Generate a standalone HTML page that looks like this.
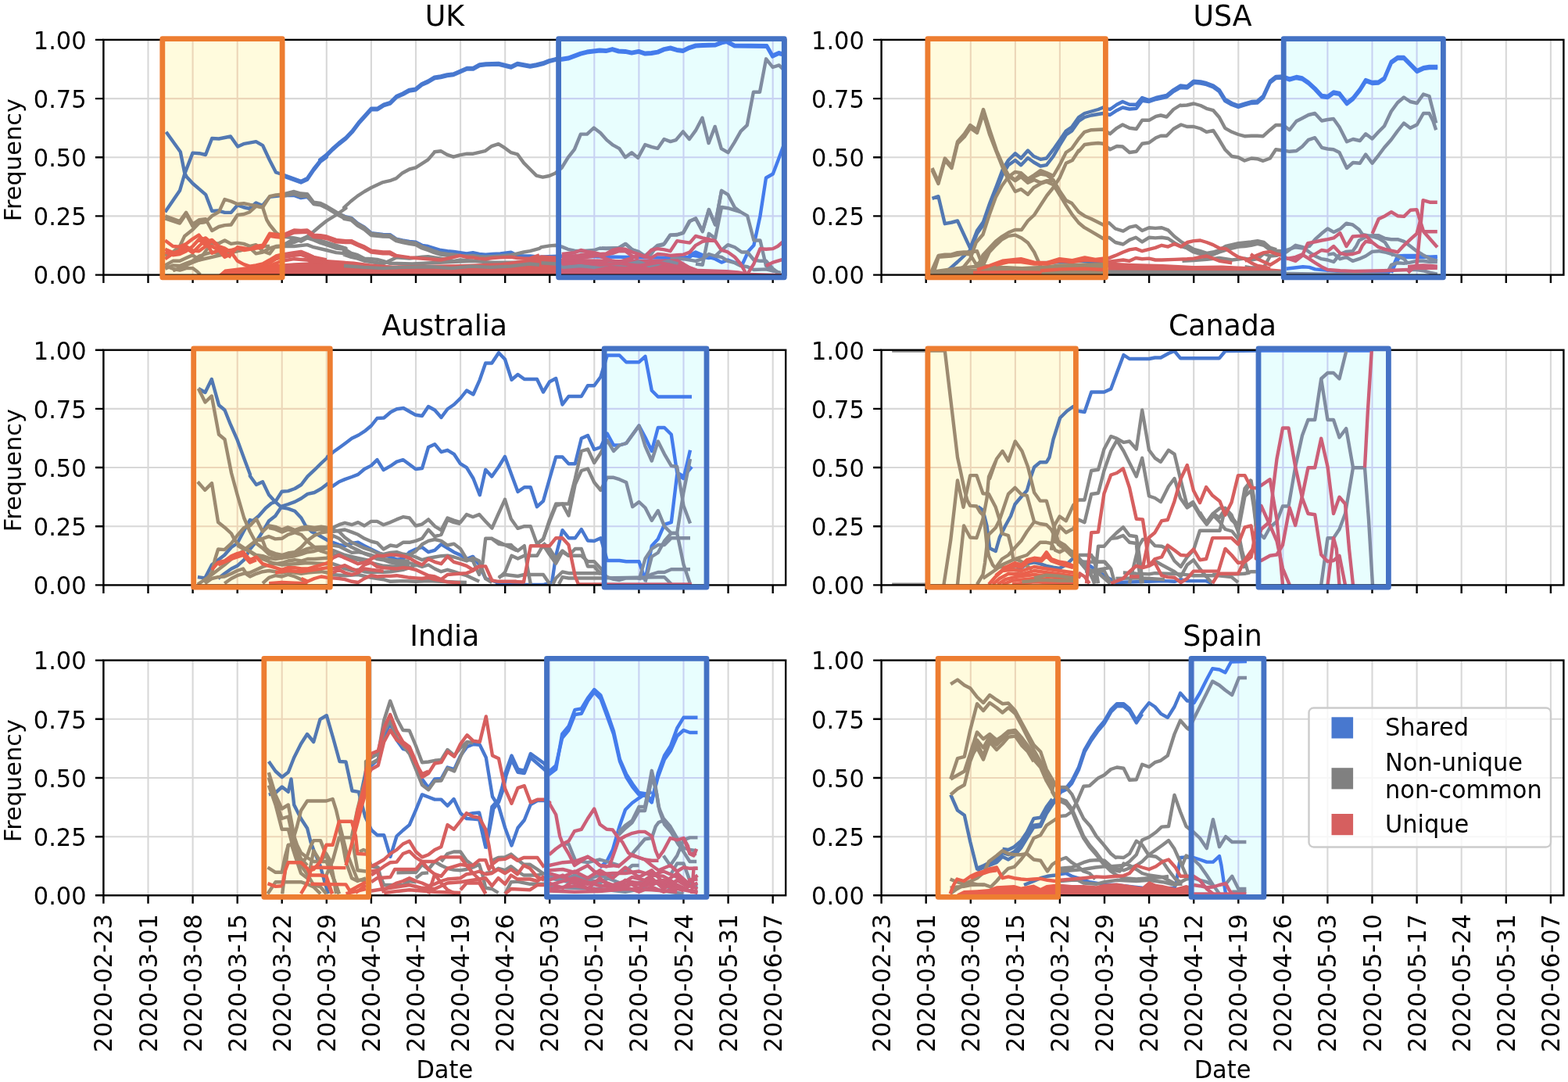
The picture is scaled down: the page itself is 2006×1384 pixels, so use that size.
<!DOCTYPE html>
<html lang="en">
<head>
<meta charset="utf-8">
<title>Frequency by country</title>
<style>
html,body{margin:0;padding:0;background:#fff;}
body{width:2006px;height:1384px;overflow:hidden;}
svg{display:block;filter:blur(0.55px);}
</style>
</head>
<body>
<svg xmlns="http://www.w3.org/2000/svg" width="2006" height="1384" viewBox="0 0 2006 1384" font-family="'DejaVu Sans','Liberation Sans',sans-serif">
<rect width="2006" height="1384" fill="#fff"/>
<defs>
<clipPath id="c00"><rect x="132.4" y="50.9" width="872.8" height="300.7"/></clipPath>
<path id="g00" d="M189.5 50.9V351.6M246.6 50.9V351.6M303.7 50.9V351.6M360.7 50.9V351.6M417.8 50.9V351.6M474.9 50.9V351.6M532 50.9V351.6M589.1 50.9V351.6M646.2 50.9V351.6M703.2 50.9V351.6M760.3 50.9V351.6M817.4 50.9V351.6M874.5 50.9V351.6M931.6 50.9V351.6M988.7 50.9V351.6M132.4 276.4H1005.2M132.4 201.2H1005.2M132.4 126.1H1005.2" fill="none" stroke-width="2.1"/>
<g id="d00b">
<polyline points="211.2,271.2 230,243.8 236.2,222.5 246.5,195.6 255,196.2 263,198 271.2,177 280,177.5 295,174.5 304.2,187.5 312.5,183.8 327.5,181.2 336.2,186.2 345,205 353,220.5 360.8,223 385,231.9 393.1,228.1 401.2,216.2 410,205 417.8,199.4 409.1,204.4 417.2,198.3 425.3,190.2 433.4,183.1 442.5,176 450.6,167.5 458.7,156.8 466.8,147.7 474.9,138.6 483,138.6 491,133.5 499.1,131.1 507.2,123 515.3,119.4 523.4,114.9 531.5,113.7 539.6,107.2 547.7,103.6 555.8,98.7 563.9,97.5 572,95.5 580.1,94.5 588.2,91 597.3,87 605.4,87 613.5,82.5 621.5,81.5 637.7,80.9 645.8,83 653.9,85 662,80.9 670.1,82.5 678.2,84 686.3,82.5 694.4,80.5 702.5,77.3 710.6,75.3 718.7,74.9 726.8,73.8 734.9,70.8 742.9,67.8 751,65.8 759.1,64.7 767.2,63.7 775.3,64.3 783.4,62.3 791.5,64.7 800,65.1 808.1,66.8 817.2,65.1 825.3,67.8 833.4,67.2 841.5,65.8 849.6,62.3 857.7,60.7 865.8,63.1 873.8,64.3 881.9,60.3 890,57.7 899.1,57.1 915.3,56.7 923.4,53.6 929.5,52.2 939.6,57.7 981.1,58.3 988.2,70.8 996.3,67.2 1002.3,68.8"/>
<polyline points="360.8,224.6 385,233.5 393.1,229.7 401.2,217.8 410,206.6 417.8,201 409.1,206 417.2,199.9 425.3,191.8 433.4,184.7 442.5,177.6 450.6,169.1 458.7,158.4 466.8,149.3 474.9,140.2 483,140.2 491,135.1 499.1,132.7 507.2,124.6 515.3,121 523.4,116.5 531.5,115.3 539.6,108.8 547.7,105.2 555.8,100.3 563.9,99.1 572,97.1 580.1,96.1 588.2,92.6 597.3,88.6 605.4,88.6 613.5,84.1 621.5,83.1 637.7,82.5 645.8,84.6 653.9,86.6 662,82.5 670.1,84.1 678.2,85.6 686.3,84.1 694.4,82.1 702.5,78.9 710.6,76.9 718.7,76.5 726.8,75.4 734.9,72.4 742.9,69.4 751,67.4 759.1,66.3 767.2,65.3 775.3,65.9 783.4,63.9 791.5,66.3 800,66.7 808.1,68.4 817.2,66.7 825.3,69.4 833.4,68.8 841.5,67.4 849.6,63.9 857.7,62.3 865.8,64.7 873.8,65.9 881.9,61.9 890,59.3 899.1,58.7 915.3,58.3 923.4,55.2 929.5,53.8 939.6,59.3 981.1,59.9 988.2,72.4 996.3,68.8 1002.3,70.4"/>
<polyline points="212.5,168.8 230.8,194.2 236.2,221.2 238.8,226.2 246.9,235 263.1,248.8 271.2,270 278.8,269.4 287.5,271.9 295.6,271.9 303.8,262.5 311.2,265 318.8,266.9 327.5,259.4 335.6,263.1 345,251.9 360.6,250 376.2,250 385,253.1 393.1,251.9 401.2,260 410,261.2 417.8,265 430,271.9 442.5,277.5 449.4,278.8 457.5,285.6 466.2,290.6 475,298.1 490,300 498.8,300.2 506.9,305.6 515,307.5 523.8,309 531.9,309.8 540,313.8 547.5,315 555.6,317.5 563.8,320 572.5,321.2 580.6,321.9 588.8,323.1 596.9,324.4 605,323.1 613.1,325 621.2,325.6 630,325 640,324.4 653.8,322.8 661.9,326.9 670,327.5 678.1,327.5 690,328.8 718.8,327.5 867.5,330 882.5,328.8 890,323.1 898.8,326.2 906.9,330 882.5,326.2 890,322.5 898.8,326.2 906.9,328.8 915,331.2 923.1,335.6 931.2,332.5 941.2,336.2 950,337.5 957.5,321.2 964.4,313.8 972.5,276.2 980,227.5 988.8,222.5 995,206.2 1003.8,182.5"/>
</g>
<g id="d00g">
<polyline points="360.6,315 376.2,310 385,306.2 393.1,302.5 401.2,296.2 410,288.8 417.8,282.5 430,275 442.5,266.2 440,265.6 448.8,257.5 457.5,250.6 466.2,245 475,240 490,233.1 498.8,231.2 506.9,228.1 515,221.2 523.8,216.5 531.9,214.4 547.5,204.4 555.6,195 555.8,194.2 563.9,193.2 572,197.9 580.1,200.7 588.2,198.3 597.3,196.7 605.4,196.7 620.5,193.2 628.6,187.2 637.7,184.1 645.8,189.2 653.9,195.2 662,197.3 670.1,208.4 678.2,216.5 686.3,224.6 694.4,226.6 702.5,225 710.6,221.5 718.7,214.5 726.8,201.3 734.9,191.2 742.9,171.6 751,171.6 759.7,163.5 768.2,170 776.3,179.1 784.4,185.7 792.5,190.2 800,201.3 808.1,195.2 816.2,201.9 825.3,185.1 833.4,187.8 841.5,189.8 849.6,178 857.7,181.1 864.7,179.1 873.8,168.3 881.9,178 890,166.9 898.5,150.7 906.6,183.1 914.7,161.9 922.8,190.2 931.5,195.2 939.6,182.1 947.7,167.9 955.8,160.2 963.9,117.8 972,117.8 980.1,75.3 988.6,86 996.7,83.4 1002.3,89"/>
<polyline points="211.2,276.2 230,283.1 238.1,271.9 246.5,286.9 255,281.2 263.1,280.2 271.2,295 280,290 287.5,288.1 295.6,287.5 303.8,275 311.9,274 319.4,271.2 327.5,263.8 336.2,265 345,251.2 353.1,249.4 360.6,248.8 376.2,245 385,247.5 393.1,248.1 401.2,258.8 410,260 417.8,263.8 430,271.2 442.5,278.1 440,277.5 449.4,279.4 457.5,286.2 466.2,291.2 475,298.8 490,300.6 498.8,301 506.9,306.2 515,308.1 523.8,310 531.9,311 540,315.6 547.5,318.1 555.6,321.2 563.8,323.8 572.5,325 580.6,325.6 588.8,326.9 596.9,327.5 605,326.9 613.1,328.1 621.2,328.8 630,328.1 640,327.5 653.8,326.2 661.9,324.4 670,322.5 678.1,321.2 690,317.8 692.5,316.2 703.1,314.4 711.2,313.8 718.8,315.6 726.5,318.8 735,320.6 743.1,321.2 760,320 767.5,317.5 775.6,318.1 783.8,317.5 791.9,316.9 800,311.9 808.8,319.4 816.9,321.9 825,327.5 833.1,325 841.2,313.8 850,311.9 857.5,300.6 866.2,300 874.4,297.5 882.5,283.1 890,279.4 898.8,295.6 906.9,268.1 915,287.5 923.1,243.8 931.2,248.8 940,265.6 947.5,271.2 956.2,276.2 964.4,307.5 972.5,307.5 980,340 988.8,345 998.8,351.2"/>
<polyline points="211.2,279.4 230,285.6 238.1,273.8 246.5,289.4 255,285 263.1,283.8 271.2,276.2 280,271.2 287.5,255 295.6,257.5 303.8,261 311.9,260.2 320,261.9 327.5,263.1 336.2,265.6 341.2,281.2 345,287.5 353.1,297.5 360.6,302.5 376.2,304.4 385,306.2 393.1,304.4 401.2,306.9 410,310.6 417.8,313.1 430,317.5 442.5,318.8 440,318.1 449.4,323.8 457.5,326.2 466.2,330.6 475,331.2 482.5,331.9 490,333.8 498.8,336.9 506.9,336.9 527.5,337.5 552.5,336.2 577.5,335 605,333.8 627.5,335.6 653.8,335.6 690,335"/>
<polyline points="360.6,251.2 376.2,248.1 385,251.2 393.1,250.6 401.2,261 410,262.2 417.8,266 430,273.5 442.5,280.2 440,279.8 449.4,281.5 457.5,288.5 466.2,293.5 475,301 490,302.5 498.8,302.8 506.9,308.1 515,310 523.8,311.9 531.9,313.1 540,317.5 547.5,320 555.6,323.1 563.8,325.6 572.5,326.9 580.6,327.5"/>
<polyline points="211.2,327.5 221.2,322.5 230,315 236.2,301.9 246.5,293.8 255,285 263.1,283.8"/>
<polyline points="211.2,339.4 221.2,333.8 230,333.8 238.1,330 246.5,326.2 255,332.5 263.1,321.2 270,311.9 280,311.2 287.5,307.5 295.6,311.9 303.8,310.6 311.9,311.9 320,315 327.5,313.1 336.2,321.2 345,324.4 351.2,316.2 360.6,315 376.2,315 393.1,313.1 401.2,316.2 417.8,320 430,323.1 442.5,324.4 440,325.6 449.4,328.8 457.5,330.6 466.2,333.8 475,335 490,337.5 506.9,329.4 523.8,330.6 540,328.8 547.5,328.1 555.6,329.4 563.8,330.6 580.6,333.8 588.8,332.5 605,333.8"/>
<polyline points="211.2,343.8 221.2,339.4 230,340 238.1,336.9 246.5,333.8 255,327.5 263.1,325 271.2,322.5 287.5,325 303.8,321.2 320,317.5 327.5,324.4 336.2,322.5 345,317.5 353.1,315 360.6,314.4 376.2,305.6 385,308.8 393.1,304.4 401.2,305 417.8,310 430,313.8 442.5,317.5 440,321.2 449.4,326.2 457.5,327.5 466.2,332.5 475,333.8"/>
<polyline points="221.2,346.2 230,343.1 238.8,339.4 246.5,335.6 255,332.5 271.2,328.8 287.5,325 303.8,321.2 320,317.5 336.2,315 345,315"/>
<polyline points="211.2,340 221.2,343.8 230,345.6 238.1,343.1 246.5,343.1 252.5,347.5 256.2,351.2"/>
<polyline points="770,317.5 791.2,317.5 800.6,311.9 808.8,319.4 816.5,322.5 825,327.5 840,315 848.8,313.1 857.5,300.6 865.6,300.6 873.8,298.1 881.9,283.1 890,279.4 898.8,296.2 906.9,268.1 915,287.5 923.1,243.8"/>
<polyline points="890,337.5 898.8,338.8 906.9,298.8 915,305 923.1,265 931.2,266.2 940,268.8 947.5,271.2"/>
<polyline points="915,327.5 923.1,320 931.2,313.1 940,316.2 948.8,322.5 956.2,322.5 964.4,332.5 972.5,333.8 980,333.8 988.8,343.8 998.8,351.2"/>
<polyline points="857.5,330 873.8,331.2 890,333.8 898.8,331.2 906.9,325 915,327.5 923.1,328.8 931.2,333.8 940,336.2 947.5,340 956.2,341.2 964.4,345 980,344.4 998.8,348.8"/>
</g>
<g id="d00r">
<polygon stroke="none" fill="currentColor" points="280,351 287.5,344.4 303.8,342.5 320,340.6 336.2,339.4 360.6,337.5 376.2,336.2 393.1,335.6 401.2,333.8 417.8,331.9 442.5,333.8 440,333.8 452.5,334.4 475,337.5 502.5,339.4 547.5,338.8 590,338.1 640,336.2 677.5,331.2 692.5,326.2 711.2,327.5 718.8,330.6 792.5,331.9 867.5,331.2 882.5,340 892.5,343.8 930,345 945,346.2 957.5,348.8 1000,350 1000,351.5 280,351.5"/>
<polyline points="211.2,307.5 221.2,315 230,315.6 238.1,311.9 246.5,305.6 254.4,300.6 258.8,306.2 263.1,304.4 267.5,308.1 271.2,306.9 280,315 287.5,317.5 295.6,322.5 303.8,333.8 311.9,338.1 319.4,340.6 327.5,339.4 336.2,337.5 345,332.5 353.1,327.5 360.6,325.6 376.2,323.1 385,321.9 393.1,325 401.2,328.8 417.8,332.5"/>
<polyline points="211.2,318.8 221.2,323.1 230,322.5 238.1,317.5 246.5,323.1 254.4,315 263.1,306.9 271.2,323.8 280,320 287.5,328.8 295.6,325 303.8,316.2 311.9,317.5 320,318.8 327.5,315 336.2,313.8 345,298.8 353.1,300 360.6,301.2 376.2,294.4 385,295 393.1,294.4 401.2,300.6 410,301.2 417.8,302.5 430,306.9 442.5,308.1 440,308.1 449.4,308.1 457.5,311.9 466.2,315.6 475,320.6 490,322.5 498.8,322.5 506.9,326.9 515,328.1 523.8,329.4 531.9,330 563.8,332.5 572.5,330.6 580.6,328.8 588.8,326.9 596.9,328.8 605,329.4 613.1,330.6 621.2,331.2 630,330 640,329.4 653.8,328.8 661.9,330 670,330.6 678.1,330.6 690,326.2"/>
<polyline points="211.2,322.5 221.2,326.2 230,325 238.1,321.2 246.5,315 254.4,306.2 263.1,313.8 271.2,308.1 280,316.2 287.5,321.2 295.6,320 303.8,317.5 311.9,320 327.5,317.5 336.2,316.2 345,301.9 353.1,303.1 360.6,303.8 376.2,297.5 393.1,296.9 401.2,303.1 410,303.8 417.8,305 430,309.4 442.5,310 440,310 449.4,310 457.5,313.8 466.2,317.5 475,322.5 490,324.4 498.8,324.4 506.9,328.1"/>
<polyline points="211.2,331.2 221.2,324.4 230,320 238.1,315 246.5,320.6 254.4,321.2 263.1,315 271.2,315 280,320 287.5,323.8 295.6,328.8"/>
<polyline points="718.8,325 735,323.1 743.1,320 751.2,321.9 760,323.1 767.5,325 775.6,324.4 783.8,320 791.9,318.1 800,318.8 808.8,322.5 816.9,325 825,328.8 833.1,320 841.2,318.1 850,319.4 857.5,321.2 866.2,308.1 874.4,309.4 882.5,310.6 890,301.9 898.8,304.4 906.9,306.2 915,308.1 923.1,320 930,321.9 931.2,322.5 940,328.8 947.5,337.5 953.8,348.8"/>
<polyline points="718.8,326.9 735,327.5 743.1,326.2 751.2,325 760,326.2 767.5,327.5 775.6,331.2 783.8,333.8 791.9,335 800,332.5 808.8,330 816.9,326.2 833.1,330 841.2,325 850,325.6 857.5,326.9 866.2,326.2 874.4,325.6 882.5,322.5 890,313.8 898.8,308.8 906.9,307.5 915,308.1"/>
<polyline points="718.8,328.8 743.1,330 760,327.5 775.6,325.6 783.8,323.8 791.9,321.2 800,321.2 808.8,327.5 816.9,331.2"/>
<polyline points="956.2,350.6 964.4,337.5 972.5,318.1 980,318.8 988.8,318.1 995,315 1003.8,307.5"/>
<polyline points="980,340 988.8,335.6 1003.8,331.2"/>
<polyline points="336.2,341.2 345,336.2 353.1,331.2 360.6,329.4 376.2,326.9 385,325.6 393.1,328.8 401.2,331.9 417.8,335"/>
<polyline points="345,340 360.6,333.8 376.2,331.2 393.1,332.5 412.5,336.2"/>
</g>
<g id="d00g2">
<polyline points="440,340 465,341.9 490,343.1 515,341.9 552.5,341.2 577.5,343.1 602.5,340.6 627.5,341.9 652.5,340.6 677.5,337.5 690,338.8"/>
<polyline points="692.5,336.2 711.2,337.5 721.2,341.9 742.5,340 760,341.9 780,337.5 800,338.8 817.5,335 830,340 842.5,337.5 855,333.8 867.5,337.5"/>
</g>
<g id="d00r2">
<polyline points="718.8,337.5 742.5,335.6 767.5,338.8 792.5,336.9 817.5,340 842.5,335.6 867.5,341.2 882.5,345"/>
</g>
<clipPath id="k000"><rect x="207.8" y="49.7" width="153.3" height="305.1"/></clipPath>
<clipPath id="k001"><rect x="714.6" y="49.7" width="288.7" height="305.1"/></clipPath>
<clipPath id="c01"><rect x="1127.6" y="50.9" width="872.8" height="300.7"/></clipPath>
<path id="g01" d="M1184.7 50.9V351.6M1241.8 50.9V351.6M1298.9 50.9V351.6M1355.9 50.9V351.6M1413 50.9V351.6M1470.1 50.9V351.6M1527.2 50.9V351.6M1584.3 50.9V351.6M1641.4 50.9V351.6M1698.4 50.9V351.6M1755.5 50.9V351.6M1812.6 50.9V351.6M1869.7 50.9V351.6M1926.8 50.9V351.6M1983.9 50.9V351.6M1127.6 276.4H2000.4M1127.6 201.2H2000.4M1127.6 126.1H2000.4" fill="none" stroke-width="2.1"/>
<g id="d01b">
<polyline points="1192.5,253.8 1200.5,251.2 1208.8,286.2 1217.5,284.5 1225,282.5 1241.2,317.5 1250,295 1258,283.8 1266.2,260 1275,237.5 1282.5,217.5 1290,205 1298.8,196.2 1306.2,202.5 1315,192.5 1322.5,200 1331.2,203.8 1338.8,202.5 1347.5,191.2 1356.2,178.8 1363.8,167.5 1371.2,162.5 1380,150 1387.5,145 1396.2,142.5 1405,140 1411.2,137.5 1420,140 1428.8,133.8 1436.2,130 1445,133.8 1453.8,133.8 1461.2,125 1470,128 1478.8,125 1492.5,122 1501.2,115 1510,109.5 1518.8,110.5 1527,103.8 1527.2,103.8 1536,104.5 1543.5,106.2 1552.2,109.5 1559.8,115 1567.2,127 1576,132 1584.2,135 1592.2,132.5 1601,130 1608.5,129.5 1616,123 1624.8,103.8 1632.2,98 1641.5,97.5 1649.8,100.5 1658.5,98 1666,99.5 1674,105 1682.2,112.5 1691,122 1698.5,123 1706,117.5 1713.5,118.8 1723,131.2 1731,125 1739.8,113.8 1747.2,102 1755.5,105 1763.5,104.5 1771,99.5 1779.8,78.8 1788,73 1796,73 1804.2,81.2 1812.8,90 1821,86.2 1828.5,85 1839.2,85"/>
<polyline points="1205,351.2 1215,343.8 1225,335 1241.2,320 1250,298.8 1258,287.5 1266.2,263.8 1275,242.5 1282.5,223.8 1290,211.2 1298.8,205 1306.2,211.2 1315,202 1322.5,207.5 1331.2,212.5 1338.8,211.2 1347.5,200 1356.2,185 1363.8,172.5 1371.2,167.5 1380,155 1387.5,150 1396.2,147.5 1411.2,145 1420,147 1428.8,141.2 1436.2,137.5 1445,139.5 1453.8,138.8 1461.2,128.8 1470,130 1478.8,127 1492.5,124 1501.2,117 1510,112 1518.8,112.5 1527,106.2 1527.2,105.8 1536,106.5 1543.5,108.2 1552.2,111.5 1559.8,117 1567.2,129 1576,134 1584.2,137 1592.2,134.5 1601,132 1608.5,131.5 1616,125 1624.8,105.8 1632.2,100 1641.5,99.5 1649.8,102.5 1658.5,100 1666,101.5 1674,107 1682.2,114.5 1691,124 1698.5,125 1706,119.5 1713.5,120.8 1723,133.2 1731,127 1739.8,115.8 1747.2,104 1755.5,107 1763.5,106.5 1771,101.5 1779.8,80.8 1788,75 1796,75 1804.2,83.2 1812.8,92 1821,88.2 1828.5,87 1839.2,87"/>
<polyline points="1331.2,336.2 1347.5,335.6 1363.8,335 1380,333.8 1411.2,336.2 1418.8,340 1437.5,341.9 1481.2,345 1528.8,345 1587.5,346.2"/>
<polyline points="1645.6,343.8 1666.9,341.2 1675,341.9 1682.5,344.4 1732.5,348.8 1776.2,348.8 1782.5,340 1788.1,327.5 1796.2,326.9 1804.4,326.9 1812.5,326.9 1820.6,327.5 1830,329.4 1838.8,330"/>
<polyline points="1780,348.8 1785,337.5 1790,329.4 1804.4,328.8 1820.6,329 1838.8,328.1"/>
</g>
<g id="d01g">
<polygon stroke="none" fill="currentColor" points="1417.5,344.4 1638.8,345 1645.6,347.8 1776.2,349.4 1776.2,351.5 1417.5,351.5"/>
<polygon stroke="none" fill="currentColor" points="1195,347.8 1411.2,340 1411.2,351.5 1195,351.5"/>
<polyline points="1192.5,215 1200.5,232.5 1208.8,202.5 1217.5,212.5 1225,181.2 1233.8,171.2 1241.2,160 1250,166.2 1258,140 1266.2,166.2 1275,192.5 1282.5,210 1290,223.8 1298.8,230 1306.2,222.5 1315,231.2 1322.5,226.2 1331.2,222.5 1338.8,223.8 1347.5,230 1356.2,245 1363.8,256.2 1371.2,260 1380,271.2 1387.5,276.2 1396.2,280 1411.2,287.5 1418.8,285 1426.9,292.5 1436.9,295.6 1445,290.6 1453.1,288.8 1461.2,295 1470,291.2 1478.1,291.9 1486.2,291.2 1494.4,294.4 1502.5,302.5 1510.6,308.8 1518.8,313.8 1527.2,318.8 1535.6,321.2 1543.8,323.8 1551.9,322.5 1560,320 1568.1,317.5 1576.2,315 1584.4,313.8 1592.5,313.1 1600.6,311.9 1608.8,310 1616.9,311.9 1625,318.8 1633.1,320.6 1638.8,321.2 1645.6,320 1657.5,316.2 1666.9,317.5 1675,315 1682.5,306.2 1690.6,298.8 1698.5,292.5 1706.2,296.9 1714.4,293.1 1722.5,285.6 1730.6,287.5 1738.8,293.8 1743.1,300 1755.6,302.5 1763.8,305 1771.9,310 1777.5,318.8 1782.5,327.5"/>
<polyline points="1192.5,217.5 1200.5,235 1208.8,205 1217.5,215 1225,183.8 1233.8,175 1241.2,163.8 1250,170 1258,145 1266.2,172.5 1275,195 1282.5,213.8 1290,230 1298.8,245 1306.2,242 1315,248.8 1322.5,240 1331.2,235 1338.8,232.5 1347.5,236.2 1356.2,250 1363.8,262.5 1371.2,273.8 1380,285 1387.5,291.2 1396.2,296.2 1411.2,305 1418.8,303.8 1426.9,310 1436.9,312.5 1445,306.9 1453.1,303.8 1461.2,309.4 1470,303.8 1478.1,304.4 1486.2,303.8 1494.4,305 1502.5,310.6 1510.6,315 1518.8,317.5 1527.2,322.5 1535.6,325 1543.8,326.9 1551.9,325.6 1560,322.5 1568.1,320 1576.2,317.5 1584.4,315.6 1592.5,315 1600.6,313.8 1608.8,311.9 1616.9,313.8 1625,320 1633.1,321.9 1638.8,322.5 1645.6,322.5 1657.5,313.8 1666.9,316.2 1675,322.5 1682.5,327.5 1690.6,331.2 1698.5,332.5 1706.2,335 1714.4,325 1722.5,321.9 1730.6,321.2 1735,315 1738.8,307.5 1747.2,303.1 1755.6,301.2 1763.8,301.2 1771.9,305 1780,306.2 1788.1,306.2 1796.2,308.8 1804.4,315 1812.5,321.2 1820.6,326.2 1830,331.2 1838.8,333.8"/>
<polyline points="1290,225 1298.8,231.2 1306.2,226.2 1315,233.8 1323.1,230 1331.2,233.8 1339.4,231.2 1347.5,231.2"/>
<polyline points="1518.8,315 1527.2,320.6 1535.6,323.1 1543.8,325.6 1551.9,324.4 1568.1,315 1584.4,311.2 1600.6,309.4 1608.8,308.1 1616.9,310 1625,316.9 1633.1,319.4"/>
<polyline points="1225,346.2 1233.1,341.2 1241.2,331.2 1248.8,310 1257.5,300 1265.6,275 1273.8,252.5 1281.9,237.5 1290,226.2 1298.5,220 1306.2,221.2 1315,228.8 1323.1,223.8 1331.2,218.1 1339.4,221.2 1347.5,225 1355.6,211.2 1363.8,195 1371.2,190 1380,177.5 1387.5,168.8 1396.2,166.2 1411.2,165.5 1420,171.2 1428.8,163.8 1436.2,159.5 1445,163.8 1453.8,165 1461.2,153.8 1470,153.8 1478.8,148.8 1485,147.5 1492.5,149.5 1501.2,140 1510,134.5 1511,135 1518.5,134.5 1527.2,132.5 1536,135 1543.5,138.8 1552.2,141.2 1559.8,150 1567.2,163.8 1576,168.8 1584.2,172 1592.2,174.2 1601,173.8 1608.5,173.8 1616,174.2 1624.8,166.2 1632.2,160 1641.5,160 1649.8,166.2 1658.5,155 1666,151.2 1674,147 1682.2,145 1691,154.5 1698.5,153 1706,152 1713.5,162.5 1723,181.2 1731,178 1739.8,180 1747.2,171.2 1755.5,177.5 1763.5,168.8 1771,161.2 1779.8,142.5 1788,131.2 1796,124.5 1804.2,130 1812.8,132 1821,120.5 1828.5,123 1833.5,142.5 1837.2,157.5"/>
<polyline points="1250,342.5 1257.5,326.2 1265.6,317.5 1273.8,308.8 1281.9,302.5 1290,297.5 1298.5,294 1306.9,294 1315,282.5 1323.1,275 1331.2,262.5 1339.4,250 1347.5,240 1355.6,227.5 1363.8,208.8 1371.9,205 1380,192.5 1380,193.8 1387.5,185 1396.2,183.8 1405,183 1411.2,183.8 1420,191.2 1428.8,187 1436.2,187.5 1445,195 1453.8,193.8 1461.2,183.8 1470,182.5 1478.8,176.2 1485,173.8 1492.5,173.8 1501.2,165 1510,160 1511,159.5 1518.5,162 1527.2,162 1536,164.5 1543.5,168.8 1552.2,167 1559.8,178.8 1567.2,191.2 1576,200 1584.2,201.2 1592.2,205.5 1601,202.5 1608.5,203.2 1616,205.8 1624.8,202.5 1632.2,191.2 1641.5,192.5 1649.8,193.8 1658.5,193 1666,187.5 1674,178.8 1682.2,176.2 1691,188.8 1698.5,190.5 1706,191.2 1713.5,195 1723,215 1731,208 1739.8,208.8 1747.2,197.5 1755.5,208.8 1763.5,198.8 1771,188.8 1779.8,178.8 1788,167.5 1796,157.5 1804.2,163.8 1812.8,159.5 1821,145 1828.5,145 1833.5,155 1837.2,166.2"/>
<polyline points="1257.5,340 1265.6,322.5 1273.8,313.8 1281.9,306.2 1290,301.9 1298.5,300.6 1306.9,304.4 1315,310.6 1323.1,322.5 1328.8,335 1332.5,343.8"/>
<polyline points="1250,337.5 1256.2,335 1265.6,318.8 1273.8,310 1281.9,303.8"/>
<polyline points="1190,351 1200.6,326.9 1208.8,325.6 1216.9,325.6 1225,323.1 1233.1,322.5 1241.2,322.5 1250,321.2 1256.2,337.5 1260,343.8 1265,348.8"/>
<polyline points="1193.8,351 1200.6,328.8 1216.9,327.5 1233.1,324.4 1241.2,325.6 1246.2,333.8 1250,340 1257.5,346.2"/>
<polyline points="1195,347.5 1225,343.1 1257.5,340 1282.5,341.9 1307.5,343.1 1332.5,341.9 1357.5,339.4 1387.8,338.8 1411.2,338.1 1418.8,340 1450,341.9 1487.5,343.8"/>
<polyline points="1195,349.4 1232.5,346.2 1282.5,344.4 1332.5,344 1387.8,341.2 1411.2,340.6"/>
<polyline points="1512.5,333.8 1527.2,333.1 1543.8,331.9 1560,330 1576.2,332.5 1592.5,330.6 1600.6,332.5 1608.8,331.2 1616.9,324.4 1625,327.5"/>
<polyline points="1592.5,341.2 1600,342.5 1616.9,341.9 1625,327.5 1633.1,326.9 1638.8,325"/>
<polyline points="1698.5,325.6 1706.2,324.4 1714.4,331.2 1722.5,328.8 1730.6,333.8 1738.8,331.2 1747.2,327.5 1755.6,321.9 1763.8,321.2 1771.9,322.5 1780,325 1788.1,327.5 1796.2,331.2 1801.2,337.5"/>
<polyline points="1776.2,346.2 1780,338.8 1788.1,336.2 1796.2,336.9 1804.4,335.6 1812.5,333.8 1820.6,333.8 1830,335 1838.8,335"/>
<polyline points="1801.2,345 1812.5,345 1820.6,346.2 1830,348.8 1838.8,350.6"/>
</g>
<g id="d01r">
<polygon stroke="none" fill="currentColor" points="1417.5,335.6 1450,336.9 1487.5,338.1 1527.2,340 1562.5,339.4 1600,341.2 1638.8,344.4 1638.8,346.2 1417.5,345.6"/>
<polyline points="1250,345 1265.6,340 1282.5,333.8 1298.5,331.9 1306.2,331.2 1323.1,335.6 1339.4,336.2 1355.6,331.2 1371.9,333.1 1387.8,329.4 1401.2,331.9 1411.2,330.6 1417.5,330.6 1426.9,326.9 1436.9,322.5 1445,319.4 1453.1,318.1 1461.2,321.2 1470,318.8 1478.1,316.9 1486.2,313.8 1494.4,315.6 1502.5,311.9 1510.6,315.6 1518.8,310 1527.2,308.1 1535.6,307.5 1543.8,310 1551.9,313.1 1560,317.5 1568.1,318.1 1576.2,323.8 1584.4,328.8 1592.5,331.2 1600.6,336.2 1608.8,340 1616.9,341.2 1625,343.8"/>
<polyline points="1273.8,338.8 1290,335 1306.2,335 1323.1,337.5 1339.4,337.5 1355.6,333.8 1371.9,335 1387.8,332.5 1411.2,333.8 1417.5,335 1436.9,332.5 1445,333.8 1453.1,330 1461.2,331.2 1470,330.6 1478.1,332.5 1486.2,332.5 1502.5,331.9 1518.8,331.2 1527.2,330.6 1535.6,328.8 1543.8,327.5 1560,333.8 1576.2,336.2"/>
<polyline points="1331.2,346.2 1357.5,344.4 1387.8,343.8 1411.2,345"/>
<polyline points="1245,348.8 1295,348.1 1332.5,348.8"/>
<polyline points="1592.5,333.8 1600.6,330 1608.8,326.2 1616.9,323.1 1625,321.9 1633.1,325 1638.8,326.2 1645.6,330 1657.5,333.8 1666.9,326.2 1675,331.2 1682.5,336.2 1690.6,341.2 1698.5,345 1714.4,346.2 1732.5,346.9 1770,346.2 1801.2,345"/>
<polyline points="1600,325 1608.8,331.2 1616.9,335 1625,338.8 1633.1,333.8 1638.8,330"/>
<polyline points="1645.6,331.2 1657.5,328.8 1666.9,325 1673.1,311.2 1682.5,309.4 1690.6,307.5 1698.5,306.2 1706.2,304.4 1714.4,298.1 1722.5,315 1730.6,302.5 1738.8,301.9 1747.2,301.2 1755.6,310 1763.8,316.2 1771.9,318.8 1780,320.6 1788.1,322.5 1796.2,313.8 1804.4,306.2 1812.5,298.8 1816.9,282.5"/>
<polyline points="1675,328.8 1682.5,325 1690.6,320 1698.5,321.2 1706.2,315 1714.4,323.8 1722.5,325.6 1730.6,325 1738.8,322.5 1743.1,313.8 1747.2,308.8 1755.6,310"/>
<polyline points="1755.6,298.8 1763.8,280 1771.9,276.2 1780,271.2 1788.1,276.2 1796.2,276.9 1804.4,268.8 1812.5,268.1 1816.9,282.5 1821.2,296.2 1830,306.2 1838.8,316.2"/>
<polyline points="1821.2,296.2 1838.8,296.2"/>
<polyline points="1801.2,348.8 1812.5,338.8 1820.6,256.2 1830,258.8 1838.8,258.8"/>
<polyline points="1801.2,341.2 1812.5,340 1820.6,339.4 1830,340 1838.8,340.6"/>
<polyline points="1801.2,343.1 1838.8,342.8"/>
</g>
<clipPath id="k010"><rect x="1186.9" y="49.7" width="227.5" height="305.1"/></clipPath>
<clipPath id="k011"><rect x="1642.2" y="49.7" width="204.2" height="305.1"/></clipPath>
<clipPath id="c10"><rect x="132.4" y="447.7" width="872.8" height="300.7"/></clipPath>
<path id="g10" d="M189.5 447.7V748.4M246.6 447.7V748.4M303.7 447.7V748.4M360.7 447.7V748.4M417.8 447.7V748.4M474.9 447.7V748.4M532 447.7V748.4M589.1 447.7V748.4M646.2 447.7V748.4M703.2 447.7V748.4M760.3 447.7V748.4M817.4 447.7V748.4M874.5 447.7V748.4M931.6 447.7V748.4M988.7 447.7V748.4M132.4 673.2H1005.2M132.4 598H1005.2M132.4 522.9H1005.2" fill="none" stroke-width="2.1"/>
<g id="d10b">
<polyline points="252.9,738.1 262.2,739.4 271,722.5 279.1,716.2 287.2,710 296,700 303.5,695 312.2,678.8 319.8,665 323.5,666.2 331,660 339.8,650 347.2,643.8 352.2,641.9 360.6,628.8 368.5,628.1 377.2,625 385.4,620 393.5,609.4 402.2,601.2 411,592.5 419.1,585 418.8,584.5 426.2,578.2 435,572 442.5,566.5 450,560.8 458.8,556.5 467.5,550.8 475,544.5 482.5,535 491.2,534.5 500,527 507.5,523.2 516.2,522 525,527 531.8,530.8 540,532 548,520 556.2,524.5 564.5,534 572.5,523.2 580.8,517.5 589,509.5 597,499.5 605.5,504.5 613.8,485.8 621.2,464.5 629.2,464.5 638,451.2 646,459.5 654.5,485.8 662.5,479 670.8,485 687,485 695,501.5 703.2,488.2 711.2,484 719.5,517.5 727.5,507 743.8,507 752,493.2 760.2,493.2 768.5,482 776.8,454.5 792.5,454.5 801.2,463.2 817.5,463.2 825.5,455.8 833.8,499.5 841.8,507.5 885,507.5"/>
<polyline points="279.1,740 287.2,733.8 296,727.5 303.5,723.8 312.2,716.2 319.8,702.5 327.9,692.5 336,680 344.1,666.2 352.2,660 360.6,647.5 368.5,645 377.2,641.9 385.4,637.5 393.5,631.9 402.2,630 411,625 419.1,618.8 425.6,621.9 433.8,616.2 441.2,613.1 450,610 458.1,606.9 466.2,600 474.8,595.6 482.5,588.1 490.6,601.2 499.4,596.2 507.5,590.6 515.6,588.1 531.8,600 540,599 548,572 556.2,568.2 564.5,578.2 572.5,575.8 580.8,580.8 589,593.2 597,598.2 605.5,612 613.8,633.2 621.2,600.8 629.2,609.5 638,597 646,584 654.5,607.5 662.5,629 670.8,623.2 678.8,623.2 687,648.2 695,640.8 703.2,612 711.2,584.5 719.5,584.5 727.5,593.2 735.8,593.2 743.8,560.8 752,557 760.2,575 768.5,572 776.8,554.5 785,569.5 792.5,569.5 801.2,567 817.5,544.5 825.5,559.5 833.8,577 841.8,547 850,547 858.8,555.8 866.2,604.5 874.5,609.5 885,597"/>
<polyline points="253.8,497 262.5,502 270.8,485 280,518.2 287.5,524.5 295,543.2 303.8,563.2 312.5,587 320,607 319.8,608.8 327.9,620 336,616.2 344.1,633.1 352.2,641.9 360.6,649.4 368.5,650.6 377.2,653.8 385.4,662.5 391,672.5 398.5,680 408.5,685 419.1,691.2 425.6,693.8 433.8,696.9 441.2,698.1 450,695 458.1,693.8 466.2,698.1 474.8,702.5 482.5,706.2 490.6,710 499.4,712.5 507.5,715.6 515.6,715 523.8,706.2 531.9,702.5 540,700 548.1,706.2 556.2,703.8 564.4,696.2 572.5,701.2 580.6,706.2 589,710 596.9,715 605,711.9 613.1,722.5 621.2,740 635,744.4 637.5,748 695,748 706.2,744.5 711.2,710.8 719.5,678.2 727.5,688.2 735.8,688.2 743.8,677 752,691.5 760.2,692 768.5,688.2 776.8,717 792.5,717 801.2,718.2 817.5,718.2 825.5,742 833.8,698.2 841.8,689.5 850,670.8 858.8,668.2 866.2,607 874.5,612 883,575.8"/>
</g>
<g id="d10g">
<polyline points="253.8,497 262.5,514.5 270.8,506.5 280,555.8 287.5,562 296,605 303.5,632.5 312.2,662.5 319.8,680 327.9,695 336,701.2 344.1,708.8 352.2,711.2 360.6,712.5 368.5,710 377.2,708.8 385.4,705 393.5,701.9 402.2,700 419.1,699.4 425.6,697.5 433.8,698.8 441.2,702.5 450,706.9 458.1,706.2 466.2,707.5 474.8,710 490.6,715 507.5,717.5 523.8,717.5"/>
<polyline points="252.9,616.2 262.2,626.9 271,618.1 279.1,668.1 287.2,674.4 296,682.5 299.8,690 303.5,695 311,700 318.5,705 326,710 336,715 348.5,720 361,722.5 377.2,721.2 393.5,720 419.1,721.2 425.6,721.2 433.8,723.8 441.2,727.5 450,730 458.1,728.8 466.2,731.2 474.8,732.5 482.5,731.9 490.6,731.9 499.4,731.2 507.5,730 515.6,728.8 523.8,726.2 531.9,722.5"/>
<polyline points="261,745 271,732.5 274.8,716.2 279.1,702.5 287.2,703.1 296,695 303.5,685 312.2,675 319.8,672.5 327.9,663.8 336,680 344.1,672.5 352.2,673.8 360.6,677.5 368.5,674.4 377.2,678.1 385.4,675 393.5,673.8 402.2,675 411,673.8 419.1,675 425.6,675 433.8,671.2 441.2,668.8 450,671.2 458.1,668.1 466.2,672.5 474.8,666.9 482.5,666.9 490.6,671.2 499.4,668.1 507.5,664.4 515.6,661.2 523.8,662.5 531.9,672.5 540,670.6 548.1,664.4 556.2,673.1 564.4,678.1 572.5,662.5 580.6,665.6 589,668.1 596.9,658.1 605,661.2 613.1,658.1 621.2,666.9 629.4,675.6 637.5,657.5 646,638.8 653.8,663.8 660,672.5 662.5,675.8 670.8,673.2 678.8,673.2 687,695.8 695,689.5 703.2,664.5 711.2,644.5 719.5,644.5 727.5,644.5 735.8,612 743.8,577 752,574.5 760.2,592 768.5,579.5 776.8,563.2 785,577 792.5,569.5 801.2,567 817.5,544.5 825.5,570.8 833.8,589.5 841.8,564.5 850,580.8 858.8,595.8 866.2,597 874.5,647 883,669.5"/>
<polyline points="344.1,675 352.2,676.9 360.6,680.6 368.5,677.5 377.2,680 385.4,677.5 393.5,676.9 402.2,678.1 411,676.9 419.1,678.1 425.6,680 441.2,677.5 450,680.6 458.1,683.8 466.2,688.8 474.8,692.5 482.5,694.4 490.6,702.5 499.4,697.5 507.5,698.8 515.6,693.8 523.8,693.8 531.9,691.9 540,688.8 548.1,677.5 556.2,686.2 564.4,683.8 572.5,665 580.6,668.1 589,670"/>
<polyline points="327.9,691.2 336,688.8 344.1,686.2 352.2,689.4 360.6,688.8 368.5,683.8 377.2,681.2 385.4,683.8 393.5,692.5 402.2,700 411,705 419.1,707.5 425.6,708.8 441.2,712.5 458.1,716.2 474.8,720 490.6,723.8 507.5,725 523.8,722.5"/>
<polyline points="327.9,690 336,691.2 339.8,701.2 344.1,705 352.2,708.1 360.6,710 368.5,707.5 377.2,706.2 385.4,700 393.5,691.2 402.2,685 411,681.2 419.1,680 425.6,677.5 433.8,680 441.2,687.5 450,693.8 458.1,697.5 466.2,701.2 474.8,703.8 482.5,707.5 490.6,708.8 499.4,706.9 507.5,706.2 515.6,708.8 523.8,710 531.9,712.5 540,716.2 548.1,713.8 556.2,712.5 564.4,711.2 572.5,710.6 580.6,712.5 589,715 596.9,717.5 605,713.8 613.1,717.5 621.2,740 629.4,745"/>
<polyline points="303.5,697.5 312.2,702.5 319.8,705 327.9,710 336,711.2 344.1,713.8 352.2,715 360.6,713.8 368.5,712.5 377.2,711.2 385.4,708.8 393.5,706.2 402.2,705 411,702.5 419.1,701.2 425.6,685 433.8,688.8 441.2,695 450,700 458.1,703.8 466.2,708.1 474.8,711.2 482.5,715 490.6,716.2 499.4,719.4 507.5,721.2 515.6,721.2 523.8,720 531.9,722.5 540,725 548.1,722.5 556.2,727.5 564.4,731.2 572.5,728.8 580.6,731.2 589,733.8 596.9,736.2 605,740 613.1,743.8"/>
<polyline points="252.9,747.5 262.2,741.2 271,735 279.1,728.8 287.2,722.5 296,715 303.5,710 312.2,703.8 319.8,697.5 327.9,691.2"/>
<polyline points="262.2,746.2 271,740 279.1,738.1 287.2,737.5 296,733.8 303.5,730 311,727.5 316,735 319.8,737.5 327.9,733.8 336,731.2 344.1,730 352.2,731.2 360.6,732.5 368.5,731.2 377.2,732.5 385.4,733.8 393.5,732.5 402.2,731.9 411,731.2 419.1,732.5 425.6,735 441.2,736.2 458.1,735 474.8,738.8 490.6,741.2 499.4,743.8 515.6,743.1 531.9,743.8 548.1,743.1 564.4,743.8 580.6,744.4 596.9,745"/>
<polyline points="287.2,746.2 296,740 303.5,736.2 311,733.8 319.8,732.5 327.9,728.8 336,725 344.1,722.5 352.2,721.2 360.6,720 368.5,717.5 377.2,716.2 385.4,717.5 393.5,715 402.2,715 419.1,713.8 425.6,703.8 441.2,710 458.1,713.8 474.8,717.5"/>
<polyline points="336,746.2 344.1,738.8 352.2,736.2 360.6,737.5 368.5,735 377.2,737.5 385.4,741.2 393.5,745"/>
<polyline points="523.8,710 531.9,705 540,696.2 548.1,691.9 556.2,690 564.4,691.9 572.5,697.5 580.6,695.6 589,701.9 596.9,715 605,717.5 613.1,735 617.5,720 621.2,688.8 629.4,688.8 637.5,694.4 646,696.9 653.8,696.9 660,703.8 629.2,689 638,695.8 646,697 654.5,698.2 662.5,704.5 670.8,698.2 675,727 678.8,747"/>
<polyline points="638,739.5 646,732 654.5,710.8 662.5,714.5 670.8,710.8 678.8,710.8 687,710.8 695,697 703.2,709.5 711.2,720.8 719.5,705.8 727.5,710.8 735.8,710.8 743.8,710.8 752,718.2 760.2,718.2 768.5,727 776.8,739.5"/>
<polyline points="687,695.8 695,689.5 703.2,667 711.2,647 719.5,644.5 727.5,659.5 735.8,619.5 743.8,602 752,599.5 760.2,617 768.5,627 776.8,610.8 785,610.8 792.5,613.2 801.2,617 809.2,648.2 817.5,642 825.5,649.5 833.8,665.8 841.8,653.2 850,673.2 858.8,682 866.2,682 874.5,722 883,747"/>
<polyline points="695,694.5 703.2,702 711.2,714.5 719.5,704.5 727.5,710.8 735.8,702 743.8,702 752,724.5 760.2,724.5 768.5,734.5"/>
<polyline points="638,738.2 646,735 662.5,737 670.8,735 695,735 703.2,747"/>
<polyline points="707.5,747 711.2,739.5 719.5,731.5 727.5,733.2 768.5,733.2 776.8,738.2 785,740.8 792.5,742 801.2,739.5 817.5,739.5 825.5,739.5 833.8,734.5 841.8,732 850,732 858.8,728.2 883,728.2"/>
<polyline points="715,747 719.5,738.2 727.5,739.5 768.5,739.5 841.8,738.2 850,738.2 858.8,747"/>
<polyline points="817.5,742 825.5,714.5 833.8,702 841.8,697 850,697 858.8,688.2 883,688.2"/>
<polyline points="825.5,744.5 833.8,712 841.8,707 850,692 858.8,682 866.2,682 874.5,629.5 883,587"/>
</g>
<g id="d10r">
<polyline points="271,728.8 279.1,719.4 287.2,717.5 296,711.2 303.5,708.1 311,706.2 319.8,716.2 327.9,712.5 336,721.2 344.1,723.8 352.2,726.2 360.6,728.8 368.5,726.2 377.2,726.2 385.4,727.5 393.5,727.5 402.2,725 411,722.5 419.1,720 425.6,713.8 433.8,710 441.2,713.8 450,717.5 458.1,721.2 466.2,719.4 474.8,715 482.5,710.6 490.6,711.2 499.4,709.4 507.5,710 515.6,711.2 523.8,713.8 531.9,718.8 540,722.5 548.1,715 556.2,718.8 564.4,721.2 572.5,711.9 580.6,718.8 589,721.2 596.9,723.8 605,728.8 613.1,724.4 621.2,724.4 629.4,742.5 637.5,743.8 660,743.8 654.5,744 670,744.5 678.8,698.2 687,698.2 703.2,698.2 711.2,688.2 719.5,688.2 727.5,697 735.8,737 740,747.5 885,747.5"/>
<polyline points="279.1,722.5 296,715 311,710 319.8,719.4 327.9,716.2"/>
<polyline points="352.2,732.5 368.5,730 385.4,731.2 402.2,728.8 419.1,726.2 425.6,727.5 433.8,725.6 441.2,723.1 450,727.5 458.1,730 466.2,722.5 474.8,719.4 482.5,725 490.6,726.2 499.4,726.9 507.5,727.5 515.6,726.2 523.8,726.9 531.9,728.8 540,732.5 548.1,736.2 556.2,737.5 564.4,741.2 572.5,735 580.6,734.4 589,733.8 596.9,733.1 605,730 613.1,724.4"/>
<polyline points="385.4,740 393.5,743.8 402.2,740 411,737.5 419.1,738.8 425.6,739.4 433.8,740 441.2,741.2 450,743.8 458.1,745 466.2,740 474.8,736.2 482.5,737.5 490.6,736.9 499.4,736.9 507.5,736.2 515.6,737.5 523.8,738.8 531.9,739.4 540,740 548.1,738.8 556.2,741.2 564.4,742.5 572.5,744.4 589,745.6"/>
<polyline points="344.1,746.2 360.6,745 377.2,745.6 393.5,746.2"/>
<polyline points="425.6,732.5 433.8,728.8 441.2,732.5 450,735 458.1,732.5 466.2,727.5 474.8,728.8 490.6,730.6"/>
</g>
<clipPath id="k100"><rect x="247.7" y="445.9" width="174.6" height="305.1"/></clipPath>
<clipPath id="k101"><rect x="773.1" y="445.9" width="130.9" height="305.1"/></clipPath>
<clipPath id="c11"><rect x="1127.6" y="447.7" width="872.8" height="300.7"/></clipPath>
<path id="g11" d="M1184.7 447.7V748.4M1241.8 447.7V748.4M1298.9 447.7V748.4M1355.9 447.7V748.4M1413 447.7V748.4M1470.1 447.7V748.4M1527.2 447.7V748.4M1584.3 447.7V748.4M1641.4 447.7V748.4M1698.4 447.7V748.4M1755.5 447.7V748.4M1812.6 447.7V748.4M1869.7 447.7V748.4M1926.8 447.7V748.4M1983.9 447.7V748.4M1127.6 673.2H2000.4M1127.6 598H2000.4M1127.6 522.9H2000.4" fill="none" stroke-width="2.1"/>
<g id="d11b">
<polyline points="1251.2,648.1 1257.5,652.5 1262.5,672.5 1266.2,701.2 1273.8,705 1278.8,687.5 1286.2,672.5 1293.1,660 1298.5,645 1306.9,635 1313.8,627.5 1318.8,610 1323.1,597.5 1330.6,591.2 1338.8,591.2 1342.5,585 1347.5,562 1356.2,534.5 1365,525.8 1373,520 1379.5,525.8 1387.5,527 1396.2,501.5 1412.5,501.5 1421.2,497.5 1428.8,477 1437.5,454 1445,459 1470,459 1477.5,457.5 1485,457.5 1495,452 1502.5,449 1510,458.2 1560,458.2 1567.5,449 1610,448.5 1606.8,448.5 1756,448.5"/>
<polyline points="1300,728.8 1306.9,726.2 1313.8,721.2 1323.1,719.4 1330.6,721.2 1338.8,723.8 1347.5,725.6 1355.6,726.9 1363.8,722.5 1373.1,713.8 1380,717.5 1388.8,719.4 1401.2,728.8 1427.5,745 1490,743.1 1502.5,743.8 1510.6,741.2 1518.8,743.1 1543.1,743.1 1551.2,746.2"/>
</g>
<g id="d11g">
<polyline points="1141.2,448.5 1208.8,448.5 1225,585 1228.8,602.5 1233.8,626.2 1237.5,640 1241.2,646.9 1249.4,647.5 1253.8,655 1257.5,658.8 1260,672.5 1262.5,697.5 1265,711.2 1270,722.5 1273.8,726.9 1278.8,725 1290,726.2 1307.5,731.2"/>
<polyline points="1207.5,747.5 1216.2,691.2 1225,614.4 1232.5,648.8 1241.2,608.1 1249.4,608.1 1257.5,631.2 1265,631.9 1273.8,648.8 1278.8,665 1281.9,682.5 1290,685 1293.8,700 1296.2,715 1302.5,716.2 1307.5,718.8 1320,728.8"/>
<polyline points="1225,747.5 1233.1,672.5 1241.2,687.5 1249.4,688.1 1257.5,663.8 1262.5,637.5 1265,610 1273.8,590 1266.2,612 1275,587 1282.5,577 1290,589.5 1298.8,564.5 1307.5,577 1315,597 1322.5,627 1320,617.5 1323.1,630 1330.6,640.6 1338.8,640.6 1345,662.5 1348.8,675 1353.8,692.5 1362.5,697.5 1368.8,703.8 1373.1,706.2 1382.5,716.2 1395,730 1407.5,735 1420,746.2"/>
<polyline points="1250,747.5 1257.5,735 1260,720 1262.5,697.5 1265,683.8 1273.8,675 1278.8,665 1290,631.9 1298.5,623.8 1306.9,632.5 1313.8,633.8 1323.1,667.5 1330.6,670 1338.8,671.2 1345,677.5 1348.8,685 1353.8,696.2 1362.5,702.5 1373.1,711.2 1382.5,720 1395,735 1401.2,746.2"/>
<polyline points="1273.8,726.2 1281.9,715 1290,710 1298.5,700.6 1306.9,691.2 1313.8,680 1323.1,667.5"/>
<polyline points="1257.5,740 1273.8,728.8 1281.9,722.5 1298.5,715 1313.8,710 1330.6,693.8 1338.8,693.8 1345,695 1350,703.8 1355.6,706.2 1362.5,702.5 1368.8,708.8 1373.1,712.5"/>
<polyline points="1345,703.8 1348.8,672.5 1355.6,660.6 1363.8,666.2 1373.1,646.2 1379.5,639.5 1387.5,639.5 1396.2,602 1405,600.8 1412.5,574.5 1421.2,558.2 1428.8,560.8 1437.5,565.8 1445,564.5 1453.8,574.5 1461.2,524.5 1470,575.8 1477.5,585.8 1485,590.8 1495,575.8 1502.5,580.8 1510,612 1518.8,647 1526.2,642 1535,657 1543.8,668.2 1552.5,657 1560,662 1567.5,650.8 1576.2,662 1584.2,672 1592.5,632 1600,614.5 1606.2,652 1606.8,677 1613.5,684.5 1617.2,688.2 1624.8,674.5 1633.5,667 1641,647.5 1648.5,647.5 1657.2,597 1666,557 1673.5,537 1682.2,537 1690.2,484.5 1698.5,537 1706,537 1713.5,559.5 1722.2,548.2 1731,598.2 1746,598.2 1751,664.5 1756,748.2"/>
<polyline points="1348.8,695 1355.6,673.1 1363.8,681.2 1373.1,676.2 1379.5,664.5 1387.5,668.2 1396.2,632 1405,630.8 1412.5,602 1421.2,577 1428.8,563.2 1437.5,577 1445,592 1453.8,609.5 1461.2,585.8 1470,634.5 1477.5,637 1485,642 1495,622 1502.5,612 1510,637 1518.8,649.5 1526.2,644.5 1535,659.5 1543.8,670.8 1552.5,659.5 1560,667 1567.5,677 1576.2,679.5 1584.2,689.5 1592.5,727"/>
<polyline points="1400,746.2 1405,698.8 1412.5,698.8 1421.2,688.8 1428.8,681.2 1436.9,674.4 1445,685 1453.8,686.2 1457.5,710 1461.9,746.2"/>
<polyline points="1421.2,688.8 1428.8,688.1 1436.9,685 1445,693.8 1453.8,695 1456.2,722.5 1460,746.2"/>
<polyline points="1445,746.2 1453.8,710 1457.5,697.5 1461.9,690 1470,690 1477.5,698.1 1486.2,698.8 1493.8,702.5 1502.5,717.5 1510.6,725 1518.8,712.5 1526.9,703.8 1535,678.8 1543.1,678.8 1560.6,678.8 1567.5,650 1575.6,658.8 1584,680 1592.5,635 1600.6,627.5 1603.8,647.5 1606.9,672.5"/>
<polyline points="1535,655 1543.1,668.8 1551.2,657.5 1560.6,650 1567.5,650 1575.6,665 1584,672.5 1592.5,625 1600.6,615 1603.8,635 1606.9,672.5"/>
<polyline points="1584,680 1588.8,703.8 1592.5,717.5 1597.5,735"/>
<polyline points="1477.5,717.5 1486.2,722.5 1502.5,731.2 1510.6,737.5 1518.8,722.5 1526.9,716.2 1535,727.5 1543.1,737.5 1551.2,746.2"/>
<polyline points="1436.9,732.5 1453.8,733.8 1470,734.4 1477.5,733.1 1510.6,734.4 1526.9,736.2 1558.8,736.2 1575.6,738.1 1584,745"/>
<polyline points="1551.2,735 1584,734.4 1592.5,733.8 1600.6,731.2 1606.9,731.2"/>
<polyline points="1390,710 1396.2,711.2 1405,718.8 1412.5,718.8 1421.2,727.5 1426.2,746.2"/>
<polyline points="1379.8,718.8 1413.8,718.8 1420,726.2 1390,731.2 1405,731.2 1412.5,730 1421.2,746.2"/>
<polyline points="1379.8,710 1396.2,710 1401.2,722.5 1405,746.2"/>
<polyline points="1390,726.2 1396.2,735 1400,746.2"/>
<polyline points="1427.5,740 1452.5,739.4 1470,740 1490,741.2"/>
<polyline points="1690.2,748.2 1698.5,688.2 1706,688.2 1713.5,677 1721,657 1731,598.2"/>
<polyline points="1690.2,484.5 1698.5,477 1706,477 1713.5,484.5 1722.2,449.5"/>
<polyline points="1141.2,747.8 1185,747.8"/>
</g>
<g id="d11r">
<polyline points="1390,746.2 1396.2,681.2 1405,680.6 1412.5,631.2 1421.2,607.5 1428.8,605 1436.9,599.4 1445,623.8 1453.8,663.8 1461.9,664.4 1465,685 1470,723.8 1477.5,715 1486.2,712.5 1493.8,697.5 1502.5,703.8 1510.6,710 1518.8,710.6 1526.9,702.5 1535,716.2 1543.1,715 1551.2,688.1 1575.6,688.1 1584,696.2 1592.5,674.4 1600.6,672.5 1603.8,692.5 1606.9,710 1606.8,714.5 1613.5,717 1624.8,710.8 1633.5,709.5 1641,697 1649.8,649.5 1657.2,672 1666,634.5 1673.5,598.2 1682.2,598.2 1690.2,560.8 1698.5,597 1706,657 1713.5,635.8 1721,644.5 1726,702 1731,748.2"/>
<polyline points="1461.9,726.2 1470,687.5 1477.5,681.2 1486.2,666.2 1493.8,665 1502.5,641.2 1510.6,612.5 1518.8,595 1526.9,627.5 1535,643.1 1543.1,623.1 1551.2,633.8 1560.6,641.2 1567.5,658.8 1575.6,642.5 1584,608.1 1592.5,608.1 1600.6,623.8 1606.9,624.4 1613.5,620.8 1624.8,613.2 1633.5,664.5 1641,748.2"/>
<polyline points="1421.2,746.2 1436.9,740 1445,731.2 1453.8,723.8 1461.9,726.2 1470,723.8 1477.5,720 1486.2,736.2 1493.8,738.1 1502.5,738.8 1510.6,745 1518.8,740 1526.9,730.6 1558.8,730.6 1567.5,701.9 1575.6,710 1584,720 1592.5,718.8 1600.6,712.5 1603.8,695 1606.8,677 1613.5,647 1624.8,672 1633.5,692 1641,727 1649.8,748.2"/>
<polyline points="1445,737.5 1457.5,737.5"/>
<polyline points="1551.2,746.2 1558.8,733.8 1584,733.8 1592.5,716.2 1600.6,705 1606.9,697.5 1613.5,677 1624.8,667 1628.5,627 1633.5,587 1641,547.5 1648.5,547.5 1657.2,597 1666,637 1673.5,657 1682.2,658.2 1690.2,709.5 1698.5,718.2 1706,717 1713.5,710.8 1721,748.2"/>
<polyline points="1698.5,748.2 1706,688.2 1709.8,702 1713.5,748.2"/>
<polyline points="1746,598.2 1749.8,527 1754.8,448.2"/>
<polyline points="1379.8,732.5 1387.5,737.5 1393.8,746.2"/>
<polyline points="1282.5,727.5 1298.5,720 1306.9,722.5 1313.8,716.2 1323.1,713.8 1332.5,715 1338.8,706.2 1345,715 1355.6,718.8 1363.8,720 1373.1,723.8"/>
<polyline points="1273.8,736.2 1286.2,726.2 1298.5,723.8 1306.9,725.6 1313.8,719.4 1323.1,716.2 1332.5,717.5 1338.8,711.2 1345,717.5 1355.6,721.2 1373.1,726.2"/>
<polyline points="1265,747.5 1273.8,737.5 1282.5,730 1295,728.8 1307.5,730 1323.1,725 1338.8,727.5 1355.6,730 1373.1,732.5 1382.5,738.8"/>
<polyline points="1270,747.5 1278.8,740 1290,733.8 1307.5,734.4 1323.1,730 1338.8,732.2 1355.6,734.4 1373.1,736.9"/>
<polyline points="1276.2,747.5 1286.2,741.2 1298.5,738.1 1323.1,735 1338.8,736.9 1355.6,738.5 1373.1,741"/>
<polyline points="1282.5,747.5 1295,742.8 1323.1,740 1355.6,742.2 1373.1,744.4"/>
<polyline points="1295,747.5 1323.1,744.4 1373.1,746.5"/>
</g>
<g id="d11g2">
<polyline points="1323.1,739.4 1338.8,735.6 1355.6,736.9 1373.1,739.4"/>
<polyline points="1307.5,744.4 1332.5,741.9 1355.6,742.8 1373.1,742.8"/>
</g>
<clipPath id="k110"><rect x="1186.9" y="445.9" width="189.5" height="305.1"/></clipPath>
<clipPath id="k111"><rect x="1610" y="445.9" width="166.4" height="305.1"/></clipPath>
<clipPath id="c20"><rect x="132.4" y="844.6" width="872.8" height="300.7"/></clipPath>
<path id="g20" d="M189.5 844.6V1145.3M246.6 844.6V1145.3M303.7 844.6V1145.3M360.7 844.6V1145.3M417.8 844.6V1145.3M474.9 844.6V1145.3M532 844.6V1145.3M589.1 844.6V1145.3M646.2 844.6V1145.3M703.2 844.6V1145.3M760.3 844.6V1145.3M817.4 844.6V1145.3M874.5 844.6V1145.3M931.6 844.6V1145.3M988.7 844.6V1145.3M132.4 1070.2H1005.2M132.4 995H1005.2M132.4 919.8H1005.2" fill="none" stroke-width="2.1"/>
<g id="d20b">
<polyline points="343.8,974 352.5,986.5 360.8,994 368.8,987.8 376.2,969 385,951.5 393,939 401.2,949 409.5,920.2 417.8,915.2 426.2,944 434.5,974 442.5,974.5 450.5,1011.5 458.8,1012.8 467,1044 475,1061.5 482.5,1068.2 491.2,1068.2 499.4,1095.8 507.5,1069.5 515.6,1062 523.8,1055.1 532.1,1035.8 540,1016.4 548.1,1019.5 556.2,1022.6 564.4,1022.6 572.5,1030.8 580.6,1022 589.1,1040.1 596.9,1047 605,1047.6 613.1,1048.2 621.2,1083.2"/>
<polyline points="596.9,1042 605,1040.1 613.1,1039.5 617.5,1057 621.2,1082"/>
<polyline points="343.8,1016.5 352.5,1014 360.8,1006.5 368.8,1012.8 372.5,996.5 376.2,1029.5 385,1047 393.1,1059.5 397.5,1077 401.2,1087 410,1108.2 415,1127 420,1143.2"/>
<polyline points="460,1024 468,986.5 475,979 483.8,971.5 491.2,941.5 499.2,925.2 507.5,946.5 515.5,957.8 523.8,960.2 532,979 540,996.5 548.2,1007.8 556.2,996.5 564.5,996 572.5,981.5 581.2,984 589.2,966.5 597.5,955.2 605.5,952 613.8,952.8 621.8,969 630,1019 638,1031.5 646.2,1059 654.5,1081.5 662.5,1059 670.8,1049 678.8,1029 687.5,1024 696.2,1024 703.2,1026.5"/>
<polyline points="621.2,1082 625.6,1059.5 629.4,1032 637.5,1023.2 642.5,1007 646.2,989.5 654.5,966.5 662.5,984 670.8,986 678.8,964 687.5,970.2 696.2,976.5 703,986.5 711.2,979 719.2,944 727.5,934 735.5,914 743.8,912.8 752,896.5 760.2,885.2 768.5,894 776.8,916.5 785,939 793,974 801.2,994 809.2,1006.5 817.5,1016.5 825.5,1017.8 833.8,1026.5 841.8,989 850,966.5 858,954 866.2,931.5 874.5,917.8 892.5,917.8"/>
<polyline points="621.2,1085.8 626.2,1062 631.2,1034.5 638.1,1025.8 643.8,1009.5 647.5,992 654.5,971.5 662.5,987.8 670.8,989 678.8,969 687.5,976.5 696.2,984 703,990.2 711.2,984 719.2,939 727.5,929 735.5,907.8 743.8,906.5 752,892.8 760.2,882 768.5,889.5 776.8,911.5 785,935.2 793,971.5 801.2,990.2 809.2,1002.8 817.5,1014 825.5,1015.2 833.8,1024 841.8,994 850,971.5 858,960.2 866.2,941.5 874.5,934 882.5,937 892.5,937"/>
<polyline points="767.5,1109.5 776.2,1102 783.8,1087 788.8,1069.5 792.5,1057 800,1035.8 808.8,1027 817.5,1020.8 825,1015.8 833.8,1013.2"/>
</g>
<g id="d20g">
<polyline points="343.8,988.2 352.5,1017 360.6,1034.5 368.8,1029.5 373.1,1052 376.2,1069.5 380,1080.8 385,1090.8 393.1,1097 401.2,1102 410,1102 417.5,1102 425,1119.5 433.8,1143.2"/>
<polyline points="343.8,994.5 352.5,1023.2 360.6,1047 368.8,1044.5 373.1,1064.5 377.5,1082 385,1098.2 393.1,1107"/>
<polyline points="343.8,1004.5 352.5,1029.5 360.6,1060.8 368.8,1060.8 373.1,1077 377.5,1089.5 385,1107 393.1,1118.2 401.2,1132 410,1134.5 417.5,1143.2"/>
<polyline points="372.5,1079.5 376.2,1069.5 380,1057 385,1037 393.1,1024.5 417.5,1024.5 425.6,1022 430,1035.8 433.8,1052 438.8,1072 442.5,1087 450,1107 457.5,1125.8 468.1,1125.8"/>
<polyline points="385,1107 393.1,1094.5 397.5,1082 401.2,1075.1 410,1075.1 417.5,1094.5 422.5,1112 430,1132 433.8,1143.2"/>
<polyline points="361.2,1143.2 368.8,1080.8 373.1,1080.8 377.5,1094.5 385,1117 393.1,1123.2 397.5,1107 401.2,1088.2 410,1102 417.5,1092 422.5,1100.8 426.2,1119.5 430,1143.2"/>
<polyline points="417.5,1119.5 425.6,1100.8 433.8,1071.4 450,1071.4 457.5,1113.2 468.1,1114.5"/>
<polyline points="433.8,1059.5 438.8,1082 442.5,1102 450,1123.2 457.5,1127 468.1,1123.2"/>
<polyline points="342.5,1109.5 352.5,1115.8 360.6,1115.8 365,1094.5 368.8,1080.8"/>
<polyline points="342.5,1143.2 352.5,1128.2 368.8,1128.2 385,1128.2 393.1,1130.8 401.2,1134.5 410,1143.2"/>
<polyline points="450,1069.5 457.5,1034.5 462.5,1014.5 468.1,995.8 468,974 475,969 483.8,964 491.2,921.5 499.2,896.5 507.5,919 515.5,934 523.8,934.5 532,954 540,975.2 548.2,974.5 556.2,972.8 564.5,972 572.5,959 581.2,966.5 589.2,956.5 597.5,949 605.5,950.2"/>
<polyline points="475,976.5 483.8,971.5 491.2,936.5 499.2,921.5 507.5,944 523.8,964 532,984 540,1004 548.2,1010.2 556.2,999 564.5,998.5 572.5,982.8 581.2,986.5 589.2,967.8 597.5,950.2"/>
<polyline points="460,1089.5 465,1087 468.1,1088.2 475,1108.2 483.8,1109.5 486.2,1119.5 491.2,1132 499.4,1132 515.6,1132 523.8,1127 532.1,1128.2"/>
<polyline points="507.5,1116.4 532.1,1115.8 540,1105.8 548.1,1112 556.2,1102 564.4,1107 572.5,1110.8 580.6,1112.6 589.1,1113.2 596.9,1112 605,1109.5 613.1,1105.8 617.5,1119.5 621.2,1135.8 629.4,1137 637.5,1142"/>
<polyline points="564.4,1102 572.5,1092 580.6,1089.5 589.1,1089.5 596.9,1100.8 605,1107"/>
<polyline points="532.1,1123.2 540,1117 548.1,1116.4"/>
<polyline points="629.4,1100.8 637.5,1097 646.2,1096.4 653.8,1092.6 661.9,1099.5 670,1105.8 678.1,1105.8 687.5,1112 696.2,1118.2"/>
<polyline points="621.2,1117 629.4,1115.8 637.5,1110.8 646.2,1113.2 653.8,1108.2 661.9,1114.5 670,1119.5 687.5,1119.5 696.2,1117"/>
<polyline points="646.2,1143.2 653.8,1128.2 661.9,1127.6 678.1,1130.8 696.2,1130.8"/>
<polyline points="791.2,1064.5 800,1055.8 808.8,1049.5 817.5,1032 825,1032 830,1007 833.8,985.8 838.8,1007 842.5,1032 848.8,1047 857.5,1057 866.2,1072 874.5,1084.5 882.5,1087 891.2,1088.2"/>
<polyline points="791.2,1068.2 800,1059.5 808.8,1052 817.5,1037 825,1037 830,1014.5 834.4,993.2 840,1014.5 843.8,1037 850,1054.5 858.8,1064.5 867.5,1079.5 875,1089.5"/>
<polyline points="808.8,1092 817.5,1082 825,1073.2 833.8,1072 838.8,1057 842.5,1052 848.8,1049.5 857.5,1062 866.2,1077 874.5,1089.5 882.5,1102 891.2,1102"/>
<polyline points="720,1079.5 727.5,1079.5 732.5,1092 736.2,1100.8 751.9,1103.2 767.5,1099.5 776.2,1102 792.5,1107"/>
<polyline points="848.8,1094.5 857.5,1107 866.2,1094.5 874.5,1074.5 882.5,1071.4 892.5,1071.4"/>
<polyline points="857.5,1119.5 866.2,1104.5 874.5,1104.5 880,1119.5 885,1133.9 892.5,1133.9"/>
<polyline points="702.5,1119.5 720,1125.8 735,1119.5 751.9,1124.5 767.5,1129.5 783.8,1119.5 800,1114.5 808.8,1107 817.5,1107"/>
<polyline points="702.5,1134.5 735,1135.8 767.5,1137 800,1140.8 825,1135.8 857.5,1140.8 874.5,1143.2"/>
<polyline points="702.5,1123.2 735,1129.5 767.5,1119.5 800,1132 833.8,1125.8 866.2,1139.5"/>
</g>
<g id="d20r">
<polyline points="385,1143.2 393.1,1129.5 397.5,1113.2 401.2,1112 410,1102 417.5,1080.8 425.6,1080.8 433.8,1050.8 450,1050.8 455,1069.5 457.5,1092 468.1,1092.6"/>
<polyline points="361.2,1133.2 365,1113.2 368.8,1103.2 385,1103.2 393.1,1110.8 397.5,1119.5 410,1119.5 417.5,1120.8 425,1143.2"/>
<polyline points="342.5,1130.1 352.5,1133.9 361.2,1133.2"/>
<polyline points="397.5,1109.5 442.5,1110.1"/>
<polyline points="397.5,1130.8 442.5,1131.4 447.5,1139.5 468.1,1128.2"/>
<polyline points="417.5,1125.8 425,1143.2"/>
<polyline points="455,1142 468.1,1132"/>
<polyline points="442.5,1143.2 468.1,1137"/>
<polyline points="442.5,1107 450,1079.5 457.5,1052 462.5,1032 468.1,1013.2 468,986.5 475,964 483.8,960.2 491.2,931.5 499.2,914 507.5,935.2 515.5,949 523.8,955.2 532,974 540,994 548.2,989 556.2,976.5 564.5,975.2 572.5,961.5 581.2,967.8 589.2,951.5 597.5,940.2 605.5,947.8 613.8,949 621.8,916.5 630,966.5 638,970.2 646.2,1009 654.5,1027.8 662.5,1007.8 670.8,1005.2 678.8,1026.5 687.5,1022.8 696.2,1022.8 703.2,1026.5 702.5,1027 711.2,1042 716.2,1069.5 720,1079.5 727.5,1075.8 735,1063.2 743.8,1060.8 751.9,1047 760.2,1034.5 767.5,1054.5 776.2,1060.8 783.8,1061.4 791.2,1072 796.2,1077 803.8,1090.8 808.8,1094.5 817.5,1097 825,1099.5 833.8,1100.8 842.5,1100.8"/>
<polyline points="452.5,1062 457.5,1035.8 462.5,1019.5 468.1,997 475,984 483.8,979 491.2,949 499.2,934 507.5,946.5 515.5,951.5 523.8,959 532,976.5 540,990.2 548.2,986.5"/>
<polyline points="475,1108.2 482.5,1104.5 491.2,1099.5 499.4,1092 507.5,1087 515.6,1079.5 523.8,1075.8 532.1,1089.5 540,1096.4 548.1,1093.2 556.2,1087 564.4,1083.2 572.5,1055.1 580.6,1060.8 589.1,1050.1 596.9,1040.1 605,1044.5 613.1,1045.8 621.2,1060.8 625.6,1082 629.4,1107 632.5,1113.2"/>
<polyline points="475,1119.5 482.5,1114.5 491.2,1108.2 499.4,1103.2 507.5,1102.6 515.6,1092 523.8,1088.9 532.1,1097 540,1102 556.2,1102 564.4,1096.4 589.1,1096.4 596.9,1107 605,1117 613.1,1124.5 621.2,1143.2"/>
<polyline points="475,1128.2 482.5,1123.2 499.4,1122 505,1112 532.1,1112 540,1102 548.1,1112 556.2,1118.2 564.4,1120.8 572.5,1110.8 589.1,1105.8 596.9,1107 605,1107 613.1,1100.1 621.2,1100.1 625.6,1112 629.4,1105.8 637.5,1099.5 646.2,1098.9 653.8,1095.1 661.9,1100.8 670,1097 687.5,1097 696.2,1109.5"/>
<polyline points="475,1114.5 482.5,1113.2 486.2,1125.8 491.2,1142"/>
<polyline points="491.2,1138.2 507.5,1129.5 515.6,1127 523.8,1123.2 532.1,1127 540,1129.5 548.1,1133.2 556.2,1130.8 564.4,1127 572.5,1124.5 589.1,1123.2 596.9,1118.2 605,1117 613.1,1114.5 621.2,1118.2 629.4,1117 637.5,1112 646.2,1117 653.8,1112 661.9,1118.2 670,1107 678.1,1110.8 687.5,1122 696.2,1125.8"/>
<polyline points="475,1139.5 491.2,1137 507.5,1134.5 523.8,1132 540,1135.8 556.2,1137 572.5,1129.5 589.1,1128.2 605,1125.8 621.2,1123.2 629.4,1133.2 637.5,1123.2 646.2,1130.8 653.8,1119.5 661.9,1124.5 678.1,1124.5 687.5,1127 696.2,1120.8"/>
<polyline points="548.1,1143.2 556.2,1118.2 564.4,1129.5 572.5,1138.2 582.5,1143.2"/>
<polyline points="589.1,1138.2 596.9,1129.5 613.1,1129.5 621.2,1143.2"/>
<polyline points="646.2,1143.2 653.8,1137 678.1,1138.2 687.5,1132 696.2,1132"/>
<polyline points="491.2,1142 523.8,1138.2 556.2,1140.8 589.1,1142"/>
<polyline points="702.5,1093.2 711.2,1085.8 720,1079.5 727.5,1092 735,1107 751.9,1095.8 760.2,1100.8 767.5,1107 776.2,1108.2 783.8,1107"/>
<polyline points="780,1107 788.8,1082 791.2,1074.5 800,1069.5 808.8,1065.8 817.5,1063.9 825,1063.9 833.8,1069.5 838.8,1088.2 842.5,1097 848.8,1088.2 857.5,1072 866.2,1074.5 874.5,1072 882.5,1092 891.2,1092"/>
<polyline points="702.5,1107 720,1103.2 735,1102 751.9,1095.8 760.2,1100.8 767.5,1107 776.2,1108.2 783.8,1107 791.2,1108.2 800,1100.8 808.8,1093.2 817.5,1097 825,1099.5 833.8,1107 842.5,1113.2 857.5,1107 866.2,1114.5 874.5,1109.5 882.5,1110.8 892.5,1110.8"/>
<polyline points="874.5,1072 880,1082 882.5,1092 887.5,1094.5 891.2,1085.8"/>
<polyline points="885,1143.2 887.5,1110.8 892.5,1110.8"/>
<polyline points="880,1125.8 892.5,1124.5"/>
<polyline points="702.5,1113.2 720,1112 735,1115.8 751.9,1107 760.2,1114.5 767.5,1118.2 783.8,1117 800,1117 817.5,1114.5 833.8,1119.5 848.8,1114.5 866.2,1122 880,1132 892.5,1137"/>
<polyline points="702.5,1125.8 720,1119.5 735,1129.5 751.9,1130.8 767.5,1125.8 783.8,1132 800,1127 817.5,1129.5 833.8,1132 848.8,1125.8 866.2,1132 880,1139.5"/>
<polyline points="702.5,1139.5 735,1140.8 767.5,1140.1 800,1137 833.8,1138.2 866.2,1140.8"/>
<polyline points="792.5,1132 808.8,1122 825,1125.8 833.8,1119.5 848.8,1120.8 857.5,1125.8 866.2,1132 880,1138.2"/>
<polyline points="792.5,1138.2 808.8,1129.5 825,1133.2 841.2,1127 857.5,1132 874.5,1139.5"/>
<polyline points="702.5,1132 735,1123.2 767.5,1133.2 800,1132 833.8,1128.2 866.2,1137 892.5,1140.8"/>
<polyline points="702.5,1117 720,1122 735,1114.5 751.9,1123.2 767.5,1113.2 783.8,1123.2 800,1109.5 817.5,1122 833.8,1113.2 848.8,1129.5 866.2,1117 880,1129.5 892.5,1119.5"/>
<polyline points="702.5,1129.5 720,1135.8 735,1125.8 751.9,1137 767.5,1123.2 783.8,1138.2 800,1125.8 817.5,1137 833.8,1123.2 848.8,1137 866.2,1125.8 880,1134.5 892.5,1129.5"/>
<polyline points="702.5,1137 735,1133.2 767.5,1138.2 800,1134.5 817.5,1140.8 833.8,1134.5 848.8,1140.8 866.2,1135.8 892.5,1142"/>
</g>
<clipPath id="k200"><rect x="337.8" y="842.4" width="133.7" height="304.9"/></clipPath>
<clipPath id="k201"><rect x="699.5" y="842.4" width="204.5" height="304.9"/></clipPath>
<clipPath id="c21"><rect x="1127.6" y="844.6" width="872.8" height="300.7"/></clipPath>
<path id="g21" d="M1184.7 844.6V1145.3M1241.8 844.6V1145.3M1298.9 844.6V1145.3M1355.9 844.6V1145.3M1413 844.6V1145.3M1470.1 844.6V1145.3M1527.2 844.6V1145.3M1584.3 844.6V1145.3M1641.4 844.6V1145.3M1698.4 844.6V1145.3M1755.5 844.6V1145.3M1812.6 844.6V1145.3M1869.7 844.6V1145.3M1926.8 844.6V1145.3M1983.9 844.6V1145.3M1127.6 1070.2H2000.4M1127.6 995H2000.4M1127.6 919.8H2000.4" fill="none" stroke-width="2.1"/>
<g id="d21b">
<polyline points="1216.2,1016.5 1225,1036.5 1233.8,1042.8 1241.2,1076.5 1250,1111.5 1250,1110.8 1258.8,1107 1266.2,1103.2 1275,1099.5 1282.5,1090.8 1290,1093.2 1297.5,1089.5 1306.2,1080.8 1313.8,1069.5 1322.5,1055.8 1331.2,1054.5 1338.8,1038.2 1346.2,1027 1350,1022 1356.9,1010.8 1363.8,1008.2 1371.2,999 1380,981.5 1387.5,959 1396.2,944 1405,931.5 1412.5,922.8 1421.2,907.8 1428.8,900.2 1437.5,900.2 1445,906.5 1453.8,921.5 1461.2,910.2 1470,899 1477.5,904 1485,912.8 1493.8,917.8 1502.5,904 1510,886.5 1518.8,896.5 1520.8,896.5 1527.5,899 1535,886.5 1543.8,869 1551.2,855.2 1560,856.5 1567.5,860.2 1575,846.5 1595,846"/>
<polyline points="1250,1113.2 1258.8,1109.5 1275,1103.2 1282.5,1095.8 1290,1099.5 1297.5,1094.5 1306.2,1084.5 1313.8,1072 1322.5,1058.2 1331.2,1057 1338.8,1040.8 1346.2,1029.5 1350,1024.5 1356.9,1013.2 1363.8,1010.1 1371.2,1002 1380,984.5 1387.5,962 1396.2,947 1405,934.5 1412.5,925.8 1421.2,910.8 1428.8,903.2 1437.5,903.2 1445,909.5 1453.8,924.5 1461.2,913.2"/>
<polyline points="1282.5,1085.8 1290,1087 1297.5,1083.2 1306.2,1075.8 1313.8,1064.5 1322.5,1047 1331.2,1045.8 1338.8,1032 1346.2,1022"/>
<polyline points="1310,1132 1322.5,1127 1331.2,1123.2 1340,1120.8 1350,1119.5 1356.9,1118.2 1363.8,1117 1371.2,1120.8 1378.8,1123.2 1386.2,1125.8 1393.8,1128.2 1413.1,1131.4 1427.5,1132 1445,1133.9 1461.2,1135.8 1487.5,1136.4 1502.5,1135.8 1505,1128.2 1510,1097 1517.5,1096.4 1527.1,1097 1535,1099.5 1543.8,1102.6 1551.9,1102.6 1560,1095.1 1562.5,1107 1566.2,1132 1568.1,1143.2"/>
</g>
<g id="d21g">
<polyline points="1216.2,875.2 1225,869.5 1233.8,876.5 1241.2,880.2 1250,891.5 1258,899 1266.2,889 1275,895.2 1282.5,900.2 1290,899.5 1298.8,909 1307.5,925.2 1315,939 1322.5,952.8 1331.2,961.5 1338.8,984 1347.5,999 1346.2,1013.2 1350,1019.5 1356.9,1022 1363.8,1024.5 1371.2,1034.5 1378.8,1052 1386.2,1069.5 1393.8,1080.8 1402.5,1090.8 1410,1100.8 1421.2,1112 1432.5,1114.5 1437.5,1104.5 1445,1107 1453.8,1112 1461.2,1117 1470,1119.5 1487.5,1122 1503.8,1130.8 1512.5,1130.8"/>
<polyline points="1216.2,996.5 1225,970.2 1233.8,967.8 1241.2,934 1250,900.2 1258,909 1266.2,899 1275,905.2 1282.5,911.5 1290,905.2 1298.8,912.8 1307.5,929 1315,944 1322.5,959 1331.2,974 1338.8,989 1347.5,1004 1346.2,997 1350,1004.5 1356.9,1007 1363.8,1007 1371.2,1015.8 1378.8,1032 1386.2,1047 1395,1057 1402.5,1069.5 1410,1078.2 1421.2,1092 1427.5,1097 1428.8,1096.4 1437.5,1097 1445,1092 1453.8,1075.8 1461.2,1080.8 1470,1094.5 1478.8,1095.8 1487.5,1102 1495,1113.2 1503.8,1124.5 1512.5,1129.5"/>
<polyline points="1216.2,1016.5 1225,1009 1233.8,1004 1241.2,974 1250,951.5 1258,966.5 1266.2,944 1275,952.8 1282.5,945.2 1290,937.8 1298.8,936.5 1307.5,949 1315,957.8 1322.5,971.5 1331.2,981.5 1338.8,999 1347.5,1014 1356.2,1024 1356.9,1025.1 1363.8,1028.2 1371.2,1037 1378.8,1055.8 1386.2,1072 1393.8,1083.2 1402.5,1093.2 1410,1103.2 1421.2,1114.5 1428.8,1119.5 1437.5,1123.2 1453.8,1124.5 1470,1123.2 1487.5,1122 1495,1120.8"/>
<polyline points="1216.2,996.5 1233.8,986.5 1241.2,964 1250,936.5 1258,945.2 1266.2,939 1275,946.5 1282.5,941.5 1290,935.2 1298.8,934 1307.5,944 1315,954 1322.5,966.5 1331.2,977.8 1338.8,994 1347.5,1009"/>
<polyline points="1241.2,969 1250,956.5 1258,971.5 1266.2,949 1275,959 1282.5,951.5 1290,942.8 1298.8,941.5 1307.5,954 1315,961.5 1322.5,974"/>
<polyline points="1241.2,971.5 1250,946.5 1258,956.5 1266.2,941.5 1275,949 1282.5,943.5 1290,936.5 1298.8,935.2 1307.5,946.5"/>
<polyline points="1215.6,1124.5 1224.4,1128.2 1233.1,1130.8 1241.9,1127 1250,1123.2 1258.8,1115.8 1265,1102 1275,1094.5 1282.5,1088.2 1290,1092 1297.5,1093.2 1306.2,1093.2 1313.8,1092 1322.5,1099.5 1331.2,1100.8 1340,1114.5 1346.2,1105.8 1350,1103.2 1356.9,1099.5 1363.8,1097 1371.2,1103.2 1378.8,1108.2 1386.2,1114.5 1393.8,1117 1401.2,1124.5"/>
<polyline points="1215.6,1135.8 1224.4,1134.5 1233.1,1133.9 1241.9,1132 1258.8,1131.4 1267.5,1134.5 1275,1127 1282.5,1118.2 1290,1110.8 1297.5,1108.9 1306.2,1099.5 1313.8,1089.5 1322.5,1072 1331.2,1068.2 1338.8,1055.8 1346.2,1050.8 1350,1048.2 1356.9,1043.9 1363.8,1043.2 1371.2,1038.2 1378.8,1023.2 1386.2,1005.8 1393.8,1005.1 1405,995.2 1412.5,991.5 1421.2,984 1428.8,981.5 1437.5,982.8 1445,997.8 1453.8,997.2 1461.2,977.8 1470,981 1477.5,975.2 1485,972.8 1493.8,966.5 1502.5,939 1510,921.5 1518.8,931.5 1520.8,932.8 1527.5,919 1535,904 1543.8,886.5 1551.2,871.5 1560,876.5 1567.5,882.8 1576.2,889 1585,867 1595,867"/>
<polyline points="1215.6,1143.2 1224.4,1137 1233.1,1132 1241.9,1129.5 1250,1131.4 1258.8,1132"/>
<polyline points="1356.9,1110.8 1371.2,1109.5 1386.2,1103.2 1393.8,1100.8 1402.5,1100.1 1413.1,1100.8 1421.2,1108.2 1437.5,1107 1445,1102 1453.8,1093.2 1461.2,1074.5 1470,1070.8 1478.8,1064.5 1486.2,1057.6 1495,1057 1502.5,1017 1510,1038.2 1517.5,1057 1527.1,1064.5 1535,1072 1543.8,1085.1 1551.9,1048.2 1560,1083.2 1568.1,1070.1 1576.2,1077 1594.4,1077"/>
<polyline points="1356.9,1114.5 1371.2,1113.2 1386.2,1112 1401.2,1109.5 1413.1,1108.2 1437.5,1113.2 1453.8,1107 1461.2,1102 1470,1093.2 1478.8,1087 1487.5,1080.8 1495,1075.1 1502.5,1085.8 1507.5,1097 1512.5,1108.2 1517.5,1119.5"/>
<polyline points="1512.5,1107 1517.5,1094.5 1527.1,1099.5 1535,1107 1543.8,1119.5 1551.9,1132 1560,1143.2"/>
<polyline points="1356.9,1127 1371.2,1125.8 1378.8,1125.8 1386.2,1129.5 1402.5,1130.8 1413.1,1128.2 1428.8,1125.8 1453.8,1127 1470,1125.8 1487.5,1128.2 1503.8,1132 1517.5,1124.5 1527.1,1123.2 1535,1125.8 1543.8,1128.2 1551.9,1132"/>
<polyline points="1568.1,1130.8 1576.2,1120.8 1584.4,1137 1594.4,1137"/>
<polyline points="1576.2,1140.8 1594.4,1140.8"/>
</g>
<g id="d21r">
<polygon stroke="none" fill="currentColor" points="1224.4,1143.2 1233.1,1138.9 1250,1138.2 1265,1137 1275,1133.2 1297.5,1132 1306.2,1134.5 1322.5,1131.4 1331.2,1135.8 1338.8,1132 1350,1130.8 1356.9,1130.8 1371.2,1132 1386.2,1132 1402.5,1133.2 1412.5,1130.8 1428.8,1129.5 1445,1132 1461.2,1134.5 1470,1127 1478.8,1130.8 1487.5,1132 1503.8,1135.8 1517.5,1132 1527.1,1134.5 1527.1,1145.1 1224.4,1145.1"/>
<polyline points="1215.6,1143.2 1220,1132 1224.4,1124.5 1233.1,1127 1241.9,1120.8 1250,1117 1258.8,1114.5 1266.2,1111.4 1275,1109.5 1282.5,1123.2 1290,1121.4 1297.5,1123.2 1306.2,1124.5 1313.8,1125.1 1322.5,1124.5 1331.2,1123.9 1340,1125.8 1350,1127 1356.9,1125.8 1386.2,1123.2 1402.5,1121.4 1413.1,1122 1412.5,1122 1428.8,1120.8 1437.5,1120.1 1445,1117 1453.8,1107 1461.2,1109.5 1470,1112 1478.8,1108.2 1487.5,1102 1495,1099.5 1503.8,1109.5 1510,1120.8 1517.5,1120.8 1527.1,1120.8 1535,1125.8 1543.8,1137 1551.9,1143.2"/>
<polyline points="1241.9,1123.2 1250,1119.5 1258.8,1117 1266.2,1114.5 1275,1113.2"/>
<polyline points="1527.1,1132 1535,1133.2 1543.8,1135.1 1551.9,1134.5 1560,1132 1568.1,1130.1 1572.5,1138.2 1576.2,1143.2"/>
<polyline points="1527.1,1143.5 1594.4,1143.5"/>
</g>
<clipPath id="k210"><rect x="1200.1" y="842.4" width="153.4" height="304.9"/></clipPath>
<clipPath id="k211"><rect x="1524" y="842.4" width="92.9" height="304.9"/></clipPath>
</defs>
<g id="ax00">
<use href="#g00" stroke="#d8d8d8"/>
<g clip-path="url(#c00)" fill="none" stroke-width="4.4" stroke-linejoin="round">
<use href="#d00b" stroke="#4878cf" color="#4878cf"/>
<use href="#d00g" stroke="#878787" color="#878787"/>
<use href="#d00r" stroke="#d65f5f" color="#d65f5f"/>
<use href="#d00g2" stroke="#878787" color="#878787"/>
<use href="#d00r2" stroke="#d65f5f" color="#d65f5f"/>
</g>
<rect x="132.4" y="50.9" width="872.8" height="300.7" fill="none" stroke="#000" stroke-width="2.4"/>
<path d="M132.4 351.6v10.5M189.5 351.6v10.5M246.6 351.6v10.5M303.7 351.6v10.5M360.7 351.6v10.5M417.8 351.6v10.5M474.9 351.6v10.5M532 351.6v10.5M589.1 351.6v10.5M646.2 351.6v10.5M703.2 351.6v10.5M760.3 351.6v10.5M817.4 351.6v10.5M874.5 351.6v10.5M931.6 351.6v10.5M988.7 351.6v10.5M132.4 351.6h-10.5M132.4 276.4h-10.5M132.4 201.2h-10.5M132.4 126.1h-10.5M132.4 50.9h-10.5" stroke="#000" stroke-width="2.4" fill="none"/>
<text transform="translate(110.6 363.4) scale(1 1.04)" font-size="30.45" text-anchor="end">0.00</text>
<text transform="translate(110.6 288.2) scale(1 1.04)" font-size="30.45" text-anchor="end">0.25</text>
<text transform="translate(110.6 213) scale(1 1.04)" font-size="30.45" text-anchor="end">0.50</text>
<text transform="translate(110.6 137.9) scale(1 1.04)" font-size="30.45" text-anchor="end">0.75</text>
<text transform="translate(110.6 62.7) scale(1 1.04)" font-size="30.45" text-anchor="end">1.00</text>
<text transform="translate(568.8 32.5) scale(1 1.01)" font-size="36.3" text-anchor="middle">UK</text>
<text transform="translate(27.2 204.7) rotate(-90)" font-size="30.45" text-anchor="middle">Frequency</text>
<g clip-path="url(#k000)">
<rect x="207.8" y="49.7" width="153.3" height="305.1" fill="#fffbdd"/>
<use href="#g00" stroke="#ecd6b8"/>
<g clip-path="url(#c00)" fill="none" stroke-width="4.4" stroke-linejoin="round">
<use href="#d00b" stroke="#5278b2" color="#5278b2"/>
<use href="#d00g" stroke="#9c8a70" color="#9c8a70"/>
<use href="#d00r" stroke="#ea604c" color="#ea604c"/>
<use href="#d00g2" stroke="#9c8a70" color="#9c8a70"/>
<use href="#d00r2" stroke="#ea604c" color="#ea604c"/>
</g>
<path d="M132.4 351.6H1005.2" stroke="#000" stroke-width="2.4"/>
</g>
<rect x="207.8" y="49.7" width="153.3" height="305.1" fill="none" stroke="#ed7d31" stroke-width="6.8" stroke-linejoin="round"/>
<g clip-path="url(#k001)">
<rect x="714.6" y="49.7" width="288.7" height="305.1" fill="#e8fefe"/>
<use href="#g00" stroke="#c8d2f2"/>
<g clip-path="url(#c00)" fill="none" stroke-width="4.4" stroke-linejoin="round">
<use href="#d00b" stroke="#447cec" color="#447cec"/>
<use href="#d00g" stroke="#808ca0" color="#808ca0"/>
<use href="#d00r" stroke="#cc5f78" color="#cc5f78"/>
<use href="#d00g2" stroke="#808ca0" color="#808ca0"/>
<use href="#d00r2" stroke="#cc5f78" color="#cc5f78"/>
</g>
<path d="M132.4 351.6H1005.2" stroke="#000" stroke-width="2.4"/>
</g>
<rect x="714.6" y="49.7" width="288.7" height="305.1" fill="none" stroke="#4472c4" stroke-width="6.8" stroke-linejoin="round"/>
</g>
<g id="ax01">
<use href="#g01" stroke="#d8d8d8"/>
<g clip-path="url(#c01)" fill="none" stroke-width="4.4" stroke-linejoin="round">
<use href="#d01b" stroke="#4878cf" color="#4878cf"/>
<use href="#d01g" stroke="#878787" color="#878787"/>
<use href="#d01r" stroke="#d65f5f" color="#d65f5f"/>
</g>
<rect x="1127.6" y="50.9" width="872.8" height="300.7" fill="none" stroke="#000" stroke-width="2.4"/>
<path d="M1127.6 351.6v10.5M1184.7 351.6v10.5M1241.8 351.6v10.5M1298.9 351.6v10.5M1355.9 351.6v10.5M1413 351.6v10.5M1470.1 351.6v10.5M1527.2 351.6v10.5M1584.3 351.6v10.5M1641.4 351.6v10.5M1698.4 351.6v10.5M1755.5 351.6v10.5M1812.6 351.6v10.5M1869.7 351.6v10.5M1926.8 351.6v10.5M1983.9 351.6v10.5M1127.6 351.6h-10.5M1127.6 276.4h-10.5M1127.6 201.2h-10.5M1127.6 126.1h-10.5M1127.6 50.9h-10.5" stroke="#000" stroke-width="2.4" fill="none"/>
<text transform="translate(1105.8 363.4) scale(1 1.04)" font-size="30.45" text-anchor="end">0.00</text>
<text transform="translate(1105.8 288.2) scale(1 1.04)" font-size="30.45" text-anchor="end">0.25</text>
<text transform="translate(1105.8 213) scale(1 1.04)" font-size="30.45" text-anchor="end">0.50</text>
<text transform="translate(1105.8 137.9) scale(1 1.04)" font-size="30.45" text-anchor="end">0.75</text>
<text transform="translate(1105.8 62.7) scale(1 1.04)" font-size="30.45" text-anchor="end">1.00</text>
<text transform="translate(1564 32.5) scale(1 1.01)" font-size="36.3" text-anchor="middle">USA</text>
<g clip-path="url(#k010)">
<rect x="1186.9" y="49.7" width="227.5" height="305.1" fill="#fffbdd"/>
<use href="#g01" stroke="#ecd6b8"/>
<g clip-path="url(#c01)" fill="none" stroke-width="4.4" stroke-linejoin="round">
<use href="#d01b" stroke="#5278b2" color="#5278b2"/>
<use href="#d01g" stroke="#9c8a70" color="#9c8a70"/>
<use href="#d01r" stroke="#ea604c" color="#ea604c"/>
</g>
<path d="M1127.6 351.6H2000.4" stroke="#000" stroke-width="2.4"/>
</g>
<rect x="1186.9" y="49.7" width="227.5" height="305.1" fill="none" stroke="#ed7d31" stroke-width="6.8" stroke-linejoin="round"/>
<g clip-path="url(#k011)">
<rect x="1642.2" y="49.7" width="204.2" height="305.1" fill="#e8fefe"/>
<use href="#g01" stroke="#c8d2f2"/>
<g clip-path="url(#c01)" fill="none" stroke-width="4.4" stroke-linejoin="round">
<use href="#d01b" stroke="#447cec" color="#447cec"/>
<use href="#d01g" stroke="#808ca0" color="#808ca0"/>
<use href="#d01r" stroke="#cc5f78" color="#cc5f78"/>
</g>
<path d="M1127.6 351.6H2000.4" stroke="#000" stroke-width="2.4"/>
</g>
<rect x="1642.2" y="49.7" width="204.2" height="305.1" fill="none" stroke="#4472c4" stroke-width="6.8" stroke-linejoin="round"/>
</g>
<g id="ax10">
<use href="#g10" stroke="#d8d8d8"/>
<g clip-path="url(#c10)" fill="none" stroke-width="4.4" stroke-linejoin="round">
<use href="#d10b" stroke="#4878cf" color="#4878cf"/>
<use href="#d10g" stroke="#878787" color="#878787"/>
<use href="#d10r" stroke="#d65f5f" color="#d65f5f"/>
</g>
<rect x="132.4" y="447.7" width="872.8" height="300.7" fill="none" stroke="#000" stroke-width="2.4"/>
<path d="M132.4 748.4v10.5M189.5 748.4v10.5M246.6 748.4v10.5M303.7 748.4v10.5M360.7 748.4v10.5M417.8 748.4v10.5M474.9 748.4v10.5M532 748.4v10.5M589.1 748.4v10.5M646.2 748.4v10.5M703.2 748.4v10.5M760.3 748.4v10.5M817.4 748.4v10.5M874.5 748.4v10.5M931.6 748.4v10.5M988.7 748.4v10.5M132.4 748.4h-10.5M132.4 673.2h-10.5M132.4 598h-10.5M132.4 522.9h-10.5M132.4 447.7h-10.5" stroke="#000" stroke-width="2.4" fill="none"/>
<text transform="translate(110.6 760.2) scale(1 1.04)" font-size="30.45" text-anchor="end">0.00</text>
<text transform="translate(110.6 685) scale(1 1.04)" font-size="30.45" text-anchor="end">0.25</text>
<text transform="translate(110.6 609.8) scale(1 1.04)" font-size="30.45" text-anchor="end">0.50</text>
<text transform="translate(110.6 534.7) scale(1 1.04)" font-size="30.45" text-anchor="end">0.75</text>
<text transform="translate(110.6 459.5) scale(1 1.04)" font-size="30.45" text-anchor="end">1.00</text>
<text transform="translate(568.8 429.3) scale(1 1.01)" font-size="36.3" text-anchor="middle">Australia</text>
<text transform="translate(27.2 601.5) rotate(-90)" font-size="30.45" text-anchor="middle">Frequency</text>
<g clip-path="url(#k100)">
<rect x="247.7" y="445.9" width="174.6" height="305.1" fill="#fffbdd"/>
<use href="#g10" stroke="#ecd6b8"/>
<g clip-path="url(#c10)" fill="none" stroke-width="4.4" stroke-linejoin="round">
<use href="#d10b" stroke="#5278b2" color="#5278b2"/>
<use href="#d10g" stroke="#9c8a70" color="#9c8a70"/>
<use href="#d10r" stroke="#ea604c" color="#ea604c"/>
</g>
<path d="M132.4 748.4H1005.2" stroke="#000" stroke-width="2.4"/>
</g>
<rect x="247.7" y="445.9" width="174.6" height="305.1" fill="none" stroke="#ed7d31" stroke-width="6.8" stroke-linejoin="round"/>
<g clip-path="url(#k101)">
<rect x="773.1" y="445.9" width="130.9" height="305.1" fill="#e8fefe"/>
<use href="#g10" stroke="#c8d2f2"/>
<g clip-path="url(#c10)" fill="none" stroke-width="4.4" stroke-linejoin="round">
<use href="#d10b" stroke="#447cec" color="#447cec"/>
<use href="#d10g" stroke="#808ca0" color="#808ca0"/>
<use href="#d10r" stroke="#cc5f78" color="#cc5f78"/>
</g>
<path d="M132.4 748.4H1005.2" stroke="#000" stroke-width="2.4"/>
</g>
<rect x="773.1" y="445.9" width="130.9" height="305.1" fill="none" stroke="#4472c4" stroke-width="6.8" stroke-linejoin="round"/>
</g>
<g id="ax11">
<use href="#g11" stroke="#d8d8d8"/>
<g clip-path="url(#c11)" fill="none" stroke-width="4.4" stroke-linejoin="round">
<use href="#d11b" stroke="#4878cf" color="#4878cf"/>
<use href="#d11g" stroke="#878787" color="#878787"/>
<use href="#d11r" stroke="#d65f5f" color="#d65f5f"/>
<use href="#d11g2" stroke="#878787" color="#878787"/>
</g>
<rect x="1127.6" y="447.7" width="872.8" height="300.7" fill="none" stroke="#000" stroke-width="2.4"/>
<path d="M1127.6 748.4v10.5M1184.7 748.4v10.5M1241.8 748.4v10.5M1298.9 748.4v10.5M1355.9 748.4v10.5M1413 748.4v10.5M1470.1 748.4v10.5M1527.2 748.4v10.5M1584.3 748.4v10.5M1641.4 748.4v10.5M1698.4 748.4v10.5M1755.5 748.4v10.5M1812.6 748.4v10.5M1869.7 748.4v10.5M1926.8 748.4v10.5M1983.9 748.4v10.5M1127.6 748.4h-10.5M1127.6 673.2h-10.5M1127.6 598h-10.5M1127.6 522.9h-10.5M1127.6 447.7h-10.5" stroke="#000" stroke-width="2.4" fill="none"/>
<text transform="translate(1105.8 760.2) scale(1 1.04)" font-size="30.45" text-anchor="end">0.00</text>
<text transform="translate(1105.8 685) scale(1 1.04)" font-size="30.45" text-anchor="end">0.25</text>
<text transform="translate(1105.8 609.8) scale(1 1.04)" font-size="30.45" text-anchor="end">0.50</text>
<text transform="translate(1105.8 534.7) scale(1 1.04)" font-size="30.45" text-anchor="end">0.75</text>
<text transform="translate(1105.8 459.5) scale(1 1.04)" font-size="30.45" text-anchor="end">1.00</text>
<text transform="translate(1564 429.3) scale(1 1.01)" font-size="36.3" text-anchor="middle">Canada</text>
<g clip-path="url(#k110)">
<rect x="1186.9" y="445.9" width="189.5" height="305.1" fill="#fffbdd"/>
<use href="#g11" stroke="#ecd6b8"/>
<g clip-path="url(#c11)" fill="none" stroke-width="4.4" stroke-linejoin="round">
<use href="#d11b" stroke="#5278b2" color="#5278b2"/>
<use href="#d11g" stroke="#9c8a70" color="#9c8a70"/>
<use href="#d11r" stroke="#ea604c" color="#ea604c"/>
<use href="#d11g2" stroke="#9c8a70" color="#9c8a70"/>
</g>
<path d="M1127.6 748.4H2000.4" stroke="#000" stroke-width="2.4"/>
</g>
<rect x="1186.9" y="445.9" width="189.5" height="305.1" fill="none" stroke="#ed7d31" stroke-width="6.8" stroke-linejoin="round"/>
<g clip-path="url(#k111)">
<rect x="1610" y="445.9" width="166.4" height="305.1" fill="#e8fefe"/>
<use href="#g11" stroke="#c8d2f2"/>
<g clip-path="url(#c11)" fill="none" stroke-width="4.4" stroke-linejoin="round">
<use href="#d11b" stroke="#447cec" color="#447cec"/>
<use href="#d11g" stroke="#808ca0" color="#808ca0"/>
<use href="#d11r" stroke="#cc5f78" color="#cc5f78"/>
<use href="#d11g2" stroke="#808ca0" color="#808ca0"/>
</g>
<path d="M1127.6 748.4H2000.4" stroke="#000" stroke-width="2.4"/>
</g>
<rect x="1610" y="445.9" width="166.4" height="305.1" fill="none" stroke="#4472c4" stroke-width="6.8" stroke-linejoin="round"/>
</g>
<g id="ax20">
<use href="#g20" stroke="#d8d8d8"/>
<g clip-path="url(#c20)" fill="none" stroke-width="4.4" stroke-linejoin="round">
<use href="#d20b" stroke="#4878cf" color="#4878cf"/>
<use href="#d20g" stroke="#878787" color="#878787"/>
<use href="#d20r" stroke="#d65f5f" color="#d65f5f"/>
</g>
<rect x="132.4" y="844.6" width="872.8" height="300.7" fill="none" stroke="#000" stroke-width="2.4"/>
<path d="M132.4 1145.3v10.5M189.5 1145.3v10.5M246.6 1145.3v10.5M303.7 1145.3v10.5M360.7 1145.3v10.5M417.8 1145.3v10.5M474.9 1145.3v10.5M532 1145.3v10.5M589.1 1145.3v10.5M646.2 1145.3v10.5M703.2 1145.3v10.5M760.3 1145.3v10.5M817.4 1145.3v10.5M874.5 1145.3v10.5M931.6 1145.3v10.5M988.7 1145.3v10.5M132.4 1145.3h-10.5M132.4 1070.2h-10.5M132.4 995h-10.5M132.4 919.8h-10.5M132.4 844.6h-10.5" stroke="#000" stroke-width="2.4" fill="none"/>
<text transform="translate(110.6 1157.1) scale(1 1.04)" font-size="30.45" text-anchor="end">0.00</text>
<text transform="translate(110.6 1082) scale(1 1.04)" font-size="30.45" text-anchor="end">0.25</text>
<text transform="translate(110.6 1006.8) scale(1 1.04)" font-size="30.45" text-anchor="end">0.50</text>
<text transform="translate(110.6 931.6) scale(1 1.04)" font-size="30.45" text-anchor="end">0.75</text>
<text transform="translate(110.6 856.4) scale(1 1.04)" font-size="30.45" text-anchor="end">1.00</text>
<text transform="translate(568.8 826.2) scale(1 1.01)" font-size="36.3" text-anchor="middle">India</text>
<text transform="translate(27.2 998.5) rotate(-90)" font-size="30.45" text-anchor="middle">Frequency</text>
<text transform="translate(143.4 1169.1) rotate(-90) scale(1 1.04)" font-size="30.45" text-anchor="end">2020-02-23</text>
<text transform="translate(200.5 1169.1) rotate(-90) scale(1 1.04)" font-size="30.45" text-anchor="end">2020-03-01</text>
<text transform="translate(257.6 1169.1) rotate(-90) scale(1 1.04)" font-size="30.45" text-anchor="end">2020-03-08</text>
<text transform="translate(314.7 1169.1) rotate(-90) scale(1 1.04)" font-size="30.45" text-anchor="end">2020-03-15</text>
<text transform="translate(371.7 1169.1) rotate(-90) scale(1 1.04)" font-size="30.45" text-anchor="end">2020-03-22</text>
<text transform="translate(428.8 1169.1) rotate(-90) scale(1 1.04)" font-size="30.45" text-anchor="end">2020-03-29</text>
<text transform="translate(485.9 1169.1) rotate(-90) scale(1 1.04)" font-size="30.45" text-anchor="end">2020-04-05</text>
<text transform="translate(543 1169.1) rotate(-90) scale(1 1.04)" font-size="30.45" text-anchor="end">2020-04-12</text>
<text transform="translate(600.1 1169.1) rotate(-90) scale(1 1.04)" font-size="30.45" text-anchor="end">2020-04-19</text>
<text transform="translate(657.2 1169.1) rotate(-90) scale(1 1.04)" font-size="30.45" text-anchor="end">2020-04-26</text>
<text transform="translate(714.2 1169.1) rotate(-90) scale(1 1.04)" font-size="30.45" text-anchor="end">2020-05-03</text>
<text transform="translate(771.3 1169.1) rotate(-90) scale(1 1.04)" font-size="30.45" text-anchor="end">2020-05-10</text>
<text transform="translate(828.4 1169.1) rotate(-90) scale(1 1.04)" font-size="30.45" text-anchor="end">2020-05-17</text>
<text transform="translate(885.5 1169.1) rotate(-90) scale(1 1.04)" font-size="30.45" text-anchor="end">2020-05-24</text>
<text transform="translate(942.6 1169.1) rotate(-90) scale(1 1.04)" font-size="30.45" text-anchor="end">2020-05-31</text>
<text transform="translate(999.7 1169.1) rotate(-90) scale(1 1.04)" font-size="30.45" text-anchor="end">2020-06-07</text>
<text transform="translate(568.8 1379.2) scale(1 1.04)" font-size="30.45" text-anchor="middle">Date</text>
<g clip-path="url(#k200)">
<rect x="337.8" y="842.4" width="133.7" height="304.9" fill="#fffbdd"/>
<use href="#g20" stroke="#ecd6b8"/>
<g clip-path="url(#c20)" fill="none" stroke-width="4.4" stroke-linejoin="round">
<use href="#d20b" stroke="#5278b2" color="#5278b2"/>
<use href="#d20g" stroke="#9c8a70" color="#9c8a70"/>
<use href="#d20r" stroke="#ea604c" color="#ea604c"/>
</g>
<path d="M132.4 1145.3H1005.2" stroke="#000" stroke-width="2.4"/>
</g>
<rect x="337.8" y="842.4" width="133.7" height="304.9" fill="none" stroke="#ed7d31" stroke-width="6.8" stroke-linejoin="round"/>
<g clip-path="url(#k201)">
<rect x="699.5" y="842.4" width="204.5" height="304.9" fill="#e8fefe"/>
<use href="#g20" stroke="#c8d2f2"/>
<g clip-path="url(#c20)" fill="none" stroke-width="4.4" stroke-linejoin="round">
<use href="#d20b" stroke="#447cec" color="#447cec"/>
<use href="#d20g" stroke="#808ca0" color="#808ca0"/>
<use href="#d20r" stroke="#cc5f78" color="#cc5f78"/>
</g>
<path d="M132.4 1145.3H1005.2" stroke="#000" stroke-width="2.4"/>
</g>
<rect x="699.5" y="842.4" width="204.5" height="304.9" fill="none" stroke="#4472c4" stroke-width="6.8" stroke-linejoin="round"/>
</g>
<g id="ax21">
<use href="#g21" stroke="#d8d8d8"/>
<g clip-path="url(#c21)" fill="none" stroke-width="4.4" stroke-linejoin="round">
<use href="#d21b" stroke="#4878cf" color="#4878cf"/>
<use href="#d21g" stroke="#878787" color="#878787"/>
<use href="#d21r" stroke="#d65f5f" color="#d65f5f"/>
</g>
<rect x="1127.6" y="844.6" width="872.8" height="300.7" fill="none" stroke="#000" stroke-width="2.4"/>
<path d="M1127.6 1145.3v10.5M1184.7 1145.3v10.5M1241.8 1145.3v10.5M1298.9 1145.3v10.5M1355.9 1145.3v10.5M1413 1145.3v10.5M1470.1 1145.3v10.5M1527.2 1145.3v10.5M1584.3 1145.3v10.5M1641.4 1145.3v10.5M1698.4 1145.3v10.5M1755.5 1145.3v10.5M1812.6 1145.3v10.5M1869.7 1145.3v10.5M1926.8 1145.3v10.5M1983.9 1145.3v10.5M1127.6 1145.3h-10.5M1127.6 1070.2h-10.5M1127.6 995h-10.5M1127.6 919.8h-10.5M1127.6 844.6h-10.5" stroke="#000" stroke-width="2.4" fill="none"/>
<text transform="translate(1105.8 1157.1) scale(1 1.04)" font-size="30.45" text-anchor="end">0.00</text>
<text transform="translate(1105.8 1082) scale(1 1.04)" font-size="30.45" text-anchor="end">0.25</text>
<text transform="translate(1105.8 1006.8) scale(1 1.04)" font-size="30.45" text-anchor="end">0.50</text>
<text transform="translate(1105.8 931.6) scale(1 1.04)" font-size="30.45" text-anchor="end">0.75</text>
<text transform="translate(1105.8 856.4) scale(1 1.04)" font-size="30.45" text-anchor="end">1.00</text>
<text transform="translate(1564 826.2) scale(1 1.01)" font-size="36.3" text-anchor="middle">Spain</text>
<text transform="translate(1138.6 1169.1) rotate(-90) scale(1 1.04)" font-size="30.45" text-anchor="end">2020-02-23</text>
<text transform="translate(1195.7 1169.1) rotate(-90) scale(1 1.04)" font-size="30.45" text-anchor="end">2020-03-01</text>
<text transform="translate(1252.8 1169.1) rotate(-90) scale(1 1.04)" font-size="30.45" text-anchor="end">2020-03-08</text>
<text transform="translate(1309.9 1169.1) rotate(-90) scale(1 1.04)" font-size="30.45" text-anchor="end">2020-03-15</text>
<text transform="translate(1366.9 1169.1) rotate(-90) scale(1 1.04)" font-size="30.45" text-anchor="end">2020-03-22</text>
<text transform="translate(1424 1169.1) rotate(-90) scale(1 1.04)" font-size="30.45" text-anchor="end">2020-03-29</text>
<text transform="translate(1481.1 1169.1) rotate(-90) scale(1 1.04)" font-size="30.45" text-anchor="end">2020-04-05</text>
<text transform="translate(1538.2 1169.1) rotate(-90) scale(1 1.04)" font-size="30.45" text-anchor="end">2020-04-12</text>
<text transform="translate(1595.3 1169.1) rotate(-90) scale(1 1.04)" font-size="30.45" text-anchor="end">2020-04-19</text>
<text transform="translate(1652.4 1169.1) rotate(-90) scale(1 1.04)" font-size="30.45" text-anchor="end">2020-04-26</text>
<text transform="translate(1709.4 1169.1) rotate(-90) scale(1 1.04)" font-size="30.45" text-anchor="end">2020-05-03</text>
<text transform="translate(1766.5 1169.1) rotate(-90) scale(1 1.04)" font-size="30.45" text-anchor="end">2020-05-10</text>
<text transform="translate(1823.6 1169.1) rotate(-90) scale(1 1.04)" font-size="30.45" text-anchor="end">2020-05-17</text>
<text transform="translate(1880.7 1169.1) rotate(-90) scale(1 1.04)" font-size="30.45" text-anchor="end">2020-05-24</text>
<text transform="translate(1937.8 1169.1) rotate(-90) scale(1 1.04)" font-size="30.45" text-anchor="end">2020-05-31</text>
<text transform="translate(1994.9 1169.1) rotate(-90) scale(1 1.04)" font-size="30.45" text-anchor="end">2020-06-07</text>
<text transform="translate(1564 1379.2) scale(1 1.04)" font-size="30.45" text-anchor="middle">Date</text>
<g id="legend">
<rect x="1674.5" y="905.5" width="309.5" height="178" rx="6" ry="6" fill="#fff" fill-opacity="0.8" stroke="#ccc" stroke-width="2.4"/>
<rect x="1703.5" y="917.3" width="27.6" height="27.2" fill="#4878cf"/>
<rect x="1703.5" y="982.2" width="27.6" height="27.2" fill="#808080"/>
<rect x="1703.5" y="1041" width="27.6" height="27.2" fill="#d65f5f"/>
<text transform="translate(1772 941.3) scale(1 1.04)" font-size="30.45" text-anchor="start">Shared</text>
<text transform="translate(1772 986.3) scale(1 1.04)" font-size="30.45" text-anchor="start">Non-unique</text>
<text transform="translate(1772 1020.8) scale(1 1.04)" font-size="30.45" text-anchor="start">non-common</text>
<text transform="translate(1772 1065.3) scale(1 1.04)" font-size="30.45" text-anchor="start">Unique</text>
</g>
<g clip-path="url(#k210)">
<rect x="1200.1" y="842.4" width="153.4" height="304.9" fill="#fffbdd"/>
<use href="#g21" stroke="#ecd6b8"/>
<g clip-path="url(#c21)" fill="none" stroke-width="4.4" stroke-linejoin="round">
<use href="#d21b" stroke="#5278b2" color="#5278b2"/>
<use href="#d21g" stroke="#9c8a70" color="#9c8a70"/>
<use href="#d21r" stroke="#ea604c" color="#ea604c"/>
</g>
<path d="M1127.6 1145.3H2000.4" stroke="#000" stroke-width="2.4"/>
</g>
<rect x="1200.1" y="842.4" width="153.4" height="304.9" fill="none" stroke="#ed7d31" stroke-width="6.8" stroke-linejoin="round"/>
<g clip-path="url(#k211)">
<rect x="1524" y="842.4" width="92.9" height="304.9" fill="#e8fefe"/>
<use href="#g21" stroke="#c8d2f2"/>
<g clip-path="url(#c21)" fill="none" stroke-width="4.4" stroke-linejoin="round">
<use href="#d21b" stroke="#447cec" color="#447cec"/>
<use href="#d21g" stroke="#808ca0" color="#808ca0"/>
<use href="#d21r" stroke="#cc5f78" color="#cc5f78"/>
</g>
<path d="M1127.6 1145.3H2000.4" stroke="#000" stroke-width="2.4"/>
</g>
<rect x="1524" y="842.4" width="92.9" height="304.9" fill="none" stroke="#4472c4" stroke-width="6.8" stroke-linejoin="round"/>
</g>
</svg>
</body>
</html>
